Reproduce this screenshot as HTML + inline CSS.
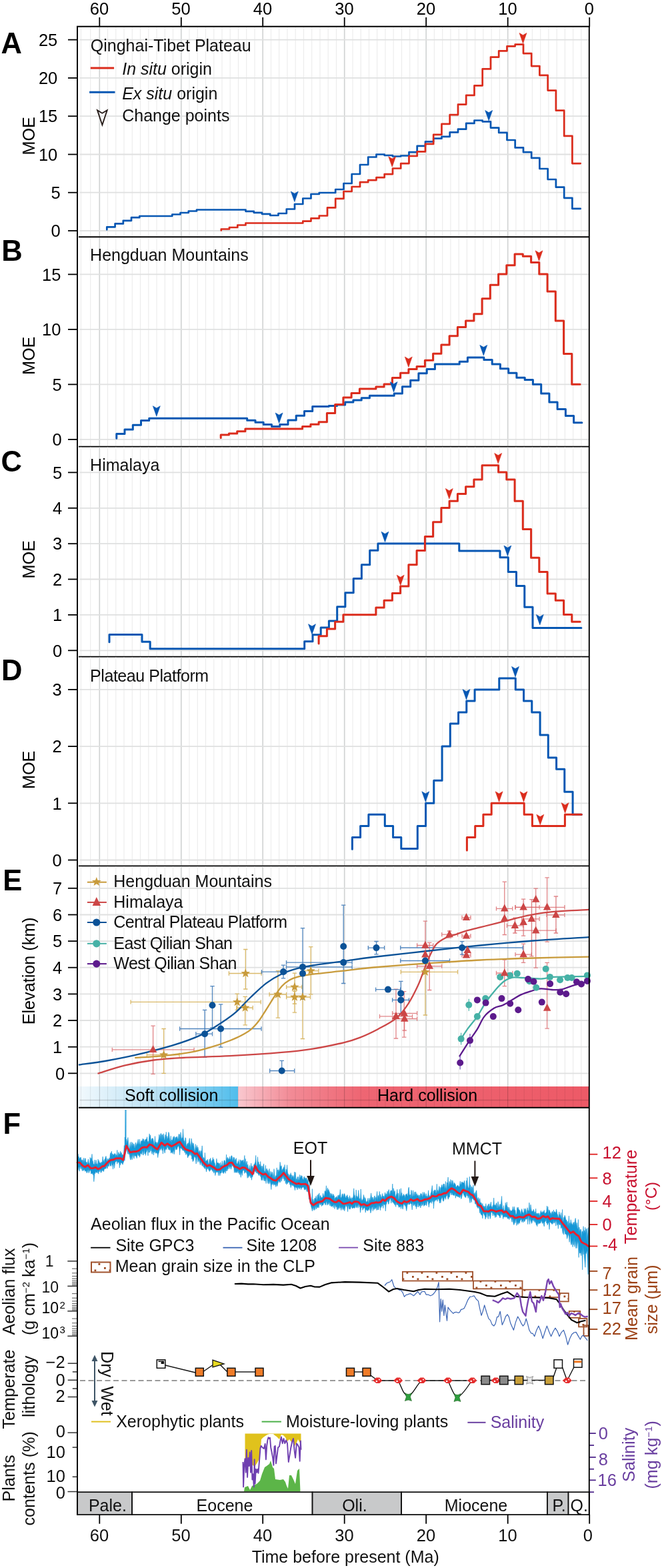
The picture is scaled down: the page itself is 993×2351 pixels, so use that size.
<!DOCTYPE html>
<html><head><meta charset="utf-8"><title>Figure</title>
<style>html,body{margin:0;padding:0;background:#fff;}svg{display:block;font-family:"Liberation Sans",Arial,Helvetica,sans-serif;}</style>
</head><body>
<svg width="993" height="2351" viewBox="0 0 993 2351">
<rect width="993" height="2351" fill="#fff"/>
<line x1="871.9" y1="40.8" x2="871.9" y2="354.2" stroke="#ececec" stroke-width="1.15" />
<line x1="859.7" y1="40.8" x2="859.7" y2="354.2" stroke="#ececec" stroke-width="1.15" />
<line x1="847.4" y1="40.8" x2="847.4" y2="354.2" stroke="#ececec" stroke-width="1.15" />
<line x1="835.2" y1="40.8" x2="835.2" y2="354.2" stroke="#ececec" stroke-width="1.15" />
<line x1="822.9" y1="40.8" x2="822.9" y2="354.2" stroke="#ececec" stroke-width="1.15" />
<line x1="810.7" y1="40.8" x2="810.7" y2="354.2" stroke="#ececec" stroke-width="1.15" />
<line x1="798.4" y1="40.8" x2="798.4" y2="354.2" stroke="#ececec" stroke-width="1.15" />
<line x1="786.2" y1="40.8" x2="786.2" y2="354.2" stroke="#ececec" stroke-width="1.15" />
<line x1="773.9" y1="40.8" x2="773.9" y2="354.2" stroke="#ececec" stroke-width="1.15" />
<line x1="761.7" y1="40.8" x2="761.7" y2="354.2" stroke="#d2d4d4" stroke-width="1.7" />
<line x1="749.4" y1="40.8" x2="749.4" y2="354.2" stroke="#ececec" stroke-width="1.15" />
<line x1="737.2" y1="40.8" x2="737.2" y2="354.2" stroke="#ececec" stroke-width="1.15" />
<line x1="724.9" y1="40.8" x2="724.9" y2="354.2" stroke="#ececec" stroke-width="1.15" />
<line x1="712.7" y1="40.8" x2="712.7" y2="354.2" stroke="#ececec" stroke-width="1.15" />
<line x1="700.4" y1="40.8" x2="700.4" y2="354.2" stroke="#ececec" stroke-width="1.15" />
<line x1="688.2" y1="40.8" x2="688.2" y2="354.2" stroke="#ececec" stroke-width="1.15" />
<line x1="675.9" y1="40.8" x2="675.9" y2="354.2" stroke="#ececec" stroke-width="1.15" />
<line x1="663.7" y1="40.8" x2="663.7" y2="354.2" stroke="#ececec" stroke-width="1.15" />
<line x1="651.4" y1="40.8" x2="651.4" y2="354.2" stroke="#ececec" stroke-width="1.15" />
<line x1="639.2" y1="40.8" x2="639.2" y2="354.2" stroke="#d2d4d4" stroke-width="1.7" />
<line x1="627" y1="40.8" x2="627" y2="354.2" stroke="#ececec" stroke-width="1.15" />
<line x1="614.7" y1="40.8" x2="614.7" y2="354.2" stroke="#ececec" stroke-width="1.15" />
<line x1="602.5" y1="40.8" x2="602.5" y2="354.2" stroke="#ececec" stroke-width="1.15" />
<line x1="590.2" y1="40.8" x2="590.2" y2="354.2" stroke="#ececec" stroke-width="1.15" />
<line x1="578" y1="40.8" x2="578" y2="354.2" stroke="#ececec" stroke-width="1.15" />
<line x1="565.7" y1="40.8" x2="565.7" y2="354.2" stroke="#ececec" stroke-width="1.15" />
<line x1="553.5" y1="40.8" x2="553.5" y2="354.2" stroke="#ececec" stroke-width="1.15" />
<line x1="541.2" y1="40.8" x2="541.2" y2="354.2" stroke="#ececec" stroke-width="1.15" />
<line x1="529" y1="40.8" x2="529" y2="354.2" stroke="#ececec" stroke-width="1.15" />
<line x1="516.7" y1="40.8" x2="516.7" y2="354.2" stroke="#d2d4d4" stroke-width="1.7" />
<line x1="504.5" y1="40.8" x2="504.5" y2="354.2" stroke="#ececec" stroke-width="1.15" />
<line x1="492.2" y1="40.8" x2="492.2" y2="354.2" stroke="#ececec" stroke-width="1.15" />
<line x1="480" y1="40.8" x2="480" y2="354.2" stroke="#ececec" stroke-width="1.15" />
<line x1="467.7" y1="40.8" x2="467.7" y2="354.2" stroke="#ececec" stroke-width="1.15" />
<line x1="455.5" y1="40.8" x2="455.5" y2="354.2" stroke="#ececec" stroke-width="1.15" />
<line x1="443.2" y1="40.8" x2="443.2" y2="354.2" stroke="#ececec" stroke-width="1.15" />
<line x1="431" y1="40.8" x2="431" y2="354.2" stroke="#ececec" stroke-width="1.15" />
<line x1="418.7" y1="40.8" x2="418.7" y2="354.2" stroke="#ececec" stroke-width="1.15" />
<line x1="406.5" y1="40.8" x2="406.5" y2="354.2" stroke="#ececec" stroke-width="1.15" />
<line x1="394.2" y1="40.8" x2="394.2" y2="354.2" stroke="#d2d4d4" stroke-width="1.7" />
<line x1="382" y1="40.8" x2="382" y2="354.2" stroke="#ececec" stroke-width="1.15" />
<line x1="369.7" y1="40.8" x2="369.7" y2="354.2" stroke="#ececec" stroke-width="1.15" />
<line x1="357.5" y1="40.8" x2="357.5" y2="354.2" stroke="#ececec" stroke-width="1.15" />
<line x1="345.2" y1="40.8" x2="345.2" y2="354.2" stroke="#ececec" stroke-width="1.15" />
<line x1="333" y1="40.8" x2="333" y2="354.2" stroke="#ececec" stroke-width="1.15" />
<line x1="320.8" y1="40.8" x2="320.8" y2="354.2" stroke="#ececec" stroke-width="1.15" />
<line x1="308.5" y1="40.8" x2="308.5" y2="354.2" stroke="#ececec" stroke-width="1.15" />
<line x1="296.3" y1="40.8" x2="296.3" y2="354.2" stroke="#ececec" stroke-width="1.15" />
<line x1="284" y1="40.8" x2="284" y2="354.2" stroke="#ececec" stroke-width="1.15" />
<line x1="271.8" y1="40.8" x2="271.8" y2="354.2" stroke="#d2d4d4" stroke-width="1.7" />
<line x1="259.5" y1="40.8" x2="259.5" y2="354.2" stroke="#ececec" stroke-width="1.15" />
<line x1="247.3" y1="40.8" x2="247.3" y2="354.2" stroke="#ececec" stroke-width="1.15" />
<line x1="235" y1="40.8" x2="235" y2="354.2" stroke="#ececec" stroke-width="1.15" />
<line x1="222.8" y1="40.8" x2="222.8" y2="354.2" stroke="#ececec" stroke-width="1.15" />
<line x1="210.5" y1="40.8" x2="210.5" y2="354.2" stroke="#ececec" stroke-width="1.15" />
<line x1="198.3" y1="40.8" x2="198.3" y2="354.2" stroke="#ececec" stroke-width="1.15" />
<line x1="186" y1="40.8" x2="186" y2="354.2" stroke="#ececec" stroke-width="1.15" />
<line x1="173.8" y1="40.8" x2="173.8" y2="354.2" stroke="#ececec" stroke-width="1.15" />
<line x1="161.5" y1="40.8" x2="161.5" y2="354.2" stroke="#ececec" stroke-width="1.15" />
<line x1="149.3" y1="40.8" x2="149.3" y2="354.2" stroke="#d2d4d4" stroke-width="1.7" />
<line x1="121.5" y1="40.8" x2="121.5" y2="354.2" stroke="#ececec" stroke-width="1.15" />
<line x1="135.7" y1="40.8" x2="135.7" y2="354.2" stroke="#ececec" stroke-width="1.15" />
<line x1="119.5" y1="346" x2="882.8" y2="346" stroke="#dfe0e0" stroke-width="1.8" />
<line x1="119.5" y1="288.7" x2="882.8" y2="288.7" stroke="#dfe0e0" stroke-width="1.8" />
<line x1="119.5" y1="231.5" x2="882.8" y2="231.5" stroke="#dfe0e0" stroke-width="1.8" />
<line x1="119.5" y1="174.2" x2="882.8" y2="174.2" stroke="#dfe0e0" stroke-width="1.8" />
<line x1="119.5" y1="116.9" x2="882.8" y2="116.9" stroke="#dfe0e0" stroke-width="1.8" />
<line x1="119.5" y1="59.6" x2="882.8" y2="59.6" stroke="#dfe0e0" stroke-width="1.8" />
<line x1="149.3" y1="26" x2="149.3" y2="39.8" stroke="#000" stroke-width="1.8" />
<text x="149" y="21.9" font-size="25.5" text-anchor="middle" fill="#000" >60</text>
<line x1="271.8" y1="26" x2="271.8" y2="39.8" stroke="#000" stroke-width="1.8" />
<text x="271.5" y="21.9" font-size="25.5" text-anchor="middle" fill="#000" >50</text>
<line x1="394.2" y1="26" x2="394.2" y2="39.8" stroke="#000" stroke-width="1.8" />
<text x="393.9" y="21.9" font-size="25.5" text-anchor="middle" fill="#000" >40</text>
<line x1="516.7" y1="26" x2="516.7" y2="39.8" stroke="#000" stroke-width="1.8" />
<text x="516.4" y="21.9" font-size="25.5" text-anchor="middle" fill="#000" >30</text>
<line x1="639.2" y1="26" x2="639.2" y2="39.8" stroke="#000" stroke-width="1.8" />
<text x="638.9" y="21.9" font-size="25.5" text-anchor="middle" fill="#000" >20</text>
<line x1="761.7" y1="26" x2="761.7" y2="39.8" stroke="#000" stroke-width="1.8" />
<text x="761.4" y="21.9" font-size="25.5" text-anchor="middle" fill="#000" >10</text>
<line x1="884.2" y1="26" x2="884.2" y2="39.8" stroke="#000" stroke-width="1.8" />
<text x="883.9" y="21.9" font-size="25.5" text-anchor="middle" fill="#000" >0</text>
<line x1="102" y1="59.6" x2="116" y2="59.6" stroke="#000" stroke-width="1.8" />
<text x="86.3" y="68.8" font-size="25.5" text-anchor="end" fill="#000" >25</text>
<line x1="102" y1="116.9" x2="116" y2="116.9" stroke="#000" stroke-width="1.8" />
<text x="86.3" y="126.1" font-size="25.5" text-anchor="end" fill="#000" >20</text>
<line x1="102" y1="174.2" x2="116" y2="174.2" stroke="#000" stroke-width="1.8" />
<text x="86.3" y="183.4" font-size="25.5" text-anchor="end" fill="#000" >15</text>
<line x1="102" y1="231.5" x2="116" y2="231.5" stroke="#000" stroke-width="1.8" />
<text x="86.3" y="240.7" font-size="25.5" text-anchor="end" fill="#000" >10</text>
<line x1="102" y1="288.7" x2="116" y2="288.7" stroke="#000" stroke-width="1.8" />
<text x="90.8" y="297.9" font-size="25.5" text-anchor="end" fill="#000" >5</text>
<line x1="102" y1="346" x2="116" y2="346" stroke="#000" stroke-width="1.8" />
<text x="90.8" y="355.2" font-size="25.5" text-anchor="end" fill="#000" >0</text>
<text x="0" y="0" font-size="25.2" text-anchor="middle" fill="#000" transform="translate(51.8,203.8) rotate(-90)">MOE</text>
<text x="1.5" y="79.5" font-size="43.5" font-weight="bold" fill="#000">A</text>
<text x="135.8" y="76.8" font-size="25" text-anchor="start" fill="#111" >Qinghai-Tibet Plateau</text>
<line x1="135.8" y1="102.1" x2="171.1" y2="102.1" stroke="#db2c1c" stroke-width="3" />
<text x="183.2" y="111.6" font-size="25" text-anchor="start" fill="#111" ><tspan font-style="italic">In situ</tspan> origin</text>
<line x1="134.1" y1="138.3" x2="172.5" y2="138.3" stroke="#0757b3" stroke-width="3" />
<text x="183.2" y="149.1" font-size="25" text-anchor="start" fill="#111" ><tspan font-style="italic">Ex situ</tspan> origin</text>
<path d="M146,165.3L153.3,169.8L160.7,165.3L153.4,187.3Z" fill="none" stroke="#231815" stroke-width="1.8"/>
<text x="183.2" y="181.8" font-size="25" text-anchor="start" fill="#111" >Change points</text>
<path d="M160.3,344.3V340.3H172.6V335.4H184.8V330.8H197V326.2H209.3V324H221.5V324H233.8V324H246V324H258.3V321.5H270.5V319H282.8V316.5H295V314.5H307.3V314.5H319.5V314.5H331.8V314.5H344V314.5H356.3V314.5H368.5V316.8H380.8V318.8H393V320.8H405.3V323H417.5V320H429.8V313.5H442V306H454.3V297.5H466.5V291H478.8V289H491V289H503.2V284H515.5V275H527.7V261H540V247H552.2V235.5H564.5V231.5H576.7V233H589V234.5H601.2V233.5H613.5V228.2H625.7V218.8H638V212.4H650.2V207.7H662.5V204.8H674.7V198.4H687V193.7H699.2V184.9H711.5V180.5H723.7V182.3H736V191.6H748.2V198.9H760.5V210H772.7V221.4H785V228.2H797.2V236.9H809.4V253H821.7V269H833.9V280.7H846.2V296.8H858.4V312.9H870.7" fill="none" stroke="#0757b3" stroke-width="2.7" stroke-linejoin="round" stroke-linecap="round"/>
<path d="M331.8,345.5V343.5H344V341H356.3V337.5H368.5V334.5H380.8V334.5H393V334.5H405.3V334.5H417.5V334.5H429.8V334.5H442V334.5H454.3V331.6H466.5V327.3H478.8V323.5H491V311.4H503.2V297.8H515.5V287H527.7V280H540V273.2H552.2V270.1H564.5V266.1H576.7V261.1H589V252.5H601.2V245.1H613.5V234H625.7V227.3H638V215.9H650.2V201.9H662.5V185.8H674.7V172.1H687V156.6H699.2V142.9H711.5V128.3H723.7V103.4H736V85.6H748.2V76.3H760.5V69.3H772.7V66.6H785V80.1H797.2V99.1H809.4V112.8H821.7V135.6H833.9V165.7H846.2V203.9H858.4V245.1H870.7" fill="none" stroke="#db2c1c" stroke-width="2.7" stroke-linejoin="round" stroke-linecap="round"/>
<path d="M436.3,287.1L441.8,290.3L447.3,287.1L441.8,302.6Z" fill="#0757b3" stroke="#0757b3" stroke-width="0.6" stroke-linejoin="round"/>
<path d="M582.7,234.7L588.2,237.9L593.7,234.7L588.2,250.2Z" fill="#db2c1c" stroke="#db2c1c" stroke-width="0.6" stroke-linejoin="round"/>
<path d="M727.7,165.5L733.2,168.7L738.7,165.5L733.2,181Z" fill="#0757b3" stroke="#0757b3" stroke-width="0.6" stroke-linejoin="round"/>
<path d="M779,49.5L784.5,52.7L790,49.5L784.5,65Z" fill="#db2c1c" stroke="#db2c1c" stroke-width="0.6" stroke-linejoin="round"/>
<line x1="871.9" y1="356.2" x2="871.9" y2="668.6" stroke="#ececec" stroke-width="1.15" />
<line x1="859.7" y1="356.2" x2="859.7" y2="668.6" stroke="#ececec" stroke-width="1.15" />
<line x1="847.4" y1="356.2" x2="847.4" y2="668.6" stroke="#ececec" stroke-width="1.15" />
<line x1="835.2" y1="356.2" x2="835.2" y2="668.6" stroke="#ececec" stroke-width="1.15" />
<line x1="822.9" y1="356.2" x2="822.9" y2="668.6" stroke="#ececec" stroke-width="1.15" />
<line x1="810.7" y1="356.2" x2="810.7" y2="668.6" stroke="#ececec" stroke-width="1.15" />
<line x1="798.4" y1="356.2" x2="798.4" y2="668.6" stroke="#ececec" stroke-width="1.15" />
<line x1="786.2" y1="356.2" x2="786.2" y2="668.6" stroke="#ececec" stroke-width="1.15" />
<line x1="773.9" y1="356.2" x2="773.9" y2="668.6" stroke="#ececec" stroke-width="1.15" />
<line x1="761.7" y1="356.2" x2="761.7" y2="668.6" stroke="#d2d4d4" stroke-width="1.7" />
<line x1="749.4" y1="356.2" x2="749.4" y2="668.6" stroke="#ececec" stroke-width="1.15" />
<line x1="737.2" y1="356.2" x2="737.2" y2="668.6" stroke="#ececec" stroke-width="1.15" />
<line x1="724.9" y1="356.2" x2="724.9" y2="668.6" stroke="#ececec" stroke-width="1.15" />
<line x1="712.7" y1="356.2" x2="712.7" y2="668.6" stroke="#ececec" stroke-width="1.15" />
<line x1="700.4" y1="356.2" x2="700.4" y2="668.6" stroke="#ececec" stroke-width="1.15" />
<line x1="688.2" y1="356.2" x2="688.2" y2="668.6" stroke="#ececec" stroke-width="1.15" />
<line x1="675.9" y1="356.2" x2="675.9" y2="668.6" stroke="#ececec" stroke-width="1.15" />
<line x1="663.7" y1="356.2" x2="663.7" y2="668.6" stroke="#ececec" stroke-width="1.15" />
<line x1="651.4" y1="356.2" x2="651.4" y2="668.6" stroke="#ececec" stroke-width="1.15" />
<line x1="639.2" y1="356.2" x2="639.2" y2="668.6" stroke="#d2d4d4" stroke-width="1.7" />
<line x1="627" y1="356.2" x2="627" y2="668.6" stroke="#ececec" stroke-width="1.15" />
<line x1="614.7" y1="356.2" x2="614.7" y2="668.6" stroke="#ececec" stroke-width="1.15" />
<line x1="602.5" y1="356.2" x2="602.5" y2="668.6" stroke="#ececec" stroke-width="1.15" />
<line x1="590.2" y1="356.2" x2="590.2" y2="668.6" stroke="#ececec" stroke-width="1.15" />
<line x1="578" y1="356.2" x2="578" y2="668.6" stroke="#ececec" stroke-width="1.15" />
<line x1="565.7" y1="356.2" x2="565.7" y2="668.6" stroke="#ececec" stroke-width="1.15" />
<line x1="553.5" y1="356.2" x2="553.5" y2="668.6" stroke="#ececec" stroke-width="1.15" />
<line x1="541.2" y1="356.2" x2="541.2" y2="668.6" stroke="#ececec" stroke-width="1.15" />
<line x1="529" y1="356.2" x2="529" y2="668.6" stroke="#ececec" stroke-width="1.15" />
<line x1="516.7" y1="356.2" x2="516.7" y2="668.6" stroke="#d2d4d4" stroke-width="1.7" />
<line x1="504.5" y1="356.2" x2="504.5" y2="668.6" stroke="#ececec" stroke-width="1.15" />
<line x1="492.2" y1="356.2" x2="492.2" y2="668.6" stroke="#ececec" stroke-width="1.15" />
<line x1="480" y1="356.2" x2="480" y2="668.6" stroke="#ececec" stroke-width="1.15" />
<line x1="467.7" y1="356.2" x2="467.7" y2="668.6" stroke="#ececec" stroke-width="1.15" />
<line x1="455.5" y1="356.2" x2="455.5" y2="668.6" stroke="#ececec" stroke-width="1.15" />
<line x1="443.2" y1="356.2" x2="443.2" y2="668.6" stroke="#ececec" stroke-width="1.15" />
<line x1="431" y1="356.2" x2="431" y2="668.6" stroke="#ececec" stroke-width="1.15" />
<line x1="418.7" y1="356.2" x2="418.7" y2="668.6" stroke="#ececec" stroke-width="1.15" />
<line x1="406.5" y1="356.2" x2="406.5" y2="668.6" stroke="#ececec" stroke-width="1.15" />
<line x1="394.2" y1="356.2" x2="394.2" y2="668.6" stroke="#d2d4d4" stroke-width="1.7" />
<line x1="382" y1="356.2" x2="382" y2="668.6" stroke="#ececec" stroke-width="1.15" />
<line x1="369.7" y1="356.2" x2="369.7" y2="668.6" stroke="#ececec" stroke-width="1.15" />
<line x1="357.5" y1="356.2" x2="357.5" y2="668.6" stroke="#ececec" stroke-width="1.15" />
<line x1="345.2" y1="356.2" x2="345.2" y2="668.6" stroke="#ececec" stroke-width="1.15" />
<line x1="333" y1="356.2" x2="333" y2="668.6" stroke="#ececec" stroke-width="1.15" />
<line x1="320.8" y1="356.2" x2="320.8" y2="668.6" stroke="#ececec" stroke-width="1.15" />
<line x1="308.5" y1="356.2" x2="308.5" y2="668.6" stroke="#ececec" stroke-width="1.15" />
<line x1="296.3" y1="356.2" x2="296.3" y2="668.6" stroke="#ececec" stroke-width="1.15" />
<line x1="284" y1="356.2" x2="284" y2="668.6" stroke="#ececec" stroke-width="1.15" />
<line x1="271.8" y1="356.2" x2="271.8" y2="668.6" stroke="#d2d4d4" stroke-width="1.7" />
<line x1="259.5" y1="356.2" x2="259.5" y2="668.6" stroke="#ececec" stroke-width="1.15" />
<line x1="247.3" y1="356.2" x2="247.3" y2="668.6" stroke="#ececec" stroke-width="1.15" />
<line x1="235" y1="356.2" x2="235" y2="668.6" stroke="#ececec" stroke-width="1.15" />
<line x1="222.8" y1="356.2" x2="222.8" y2="668.6" stroke="#ececec" stroke-width="1.15" />
<line x1="210.5" y1="356.2" x2="210.5" y2="668.6" stroke="#ececec" stroke-width="1.15" />
<line x1="198.3" y1="356.2" x2="198.3" y2="668.6" stroke="#ececec" stroke-width="1.15" />
<line x1="186" y1="356.2" x2="186" y2="668.6" stroke="#ececec" stroke-width="1.15" />
<line x1="173.8" y1="356.2" x2="173.8" y2="668.6" stroke="#ececec" stroke-width="1.15" />
<line x1="161.5" y1="356.2" x2="161.5" y2="668.6" stroke="#ececec" stroke-width="1.15" />
<line x1="149.3" y1="356.2" x2="149.3" y2="668.6" stroke="#d2d4d4" stroke-width="1.7" />
<line x1="121.5" y1="356.2" x2="121.5" y2="668.6" stroke="#ececec" stroke-width="1.15" />
<line x1="135.7" y1="356.2" x2="135.7" y2="668.6" stroke="#ececec" stroke-width="1.15" />
<line x1="119.5" y1="658.9" x2="882.8" y2="658.9" stroke="#dfe0e0" stroke-width="1.8" />
<line x1="119.5" y1="576.4" x2="882.8" y2="576.4" stroke="#dfe0e0" stroke-width="1.8" />
<line x1="119.5" y1="493.9" x2="882.8" y2="493.9" stroke="#dfe0e0" stroke-width="1.8" />
<line x1="119.5" y1="411.4" x2="882.8" y2="411.4" stroke="#dfe0e0" stroke-width="1.8" />
<line x1="102" y1="411.4" x2="116" y2="411.4" stroke="#000" stroke-width="1.8" />
<text x="91.4" y="420.6" font-size="25.5" text-anchor="end" fill="#000" >15</text>
<line x1="102" y1="493.9" x2="116" y2="493.9" stroke="#000" stroke-width="1.8" />
<text x="91.4" y="503.1" font-size="25.5" text-anchor="end" fill="#000" >10</text>
<line x1="102" y1="576.4" x2="116" y2="576.4" stroke="#000" stroke-width="1.8" />
<text x="92.8" y="585.6" font-size="25.5" text-anchor="end" fill="#000" >5</text>
<line x1="102" y1="658.9" x2="116" y2="658.9" stroke="#000" stroke-width="1.8" />
<text x="92.8" y="668.1" font-size="25.5" text-anchor="end" fill="#000" >0</text>
<text x="0" y="0" font-size="25.2" text-anchor="middle" fill="#000" transform="translate(51.8,533.4) rotate(-90)">MOE</text>
<text x="2.3" y="391.3" font-size="43.5" font-weight="bold" fill="#000">B</text>
<text x="135.1" y="390.6" font-size="25" text-anchor="start" fill="#111" >Hengduan Mountains</text>
<path d="M174.8,657.3V650.6H187V643.9H199.3V637.2H211.5V630.6H223.7V627.3H236V627.3H248.2V627.3H260.5V627.3H272.7V627.3H285V627.3H297.2V627.3H309.5V627.3H321.7V627.3H334V627.3H346.2V627.3H358.5V627.3H370.7V630.3H383V633.3H395.2V636.6H407.5V639.6H419.7V636.6H432V630H444.2V623.2H456.5V616.4H468.7V609.4H481V609.4H493.2V608.6H505.5V606.9H517.7V603.1H529.9V600H542.2V596.8H554.4V593.3H566.7V593.3H578.9V593.3H591.2V590H603.4V579.7H615.7V570.3H627.9V559.8H640.2V553.4H652.4V546.1H664.7V546.1H676.9V546.1H689.2V542.3H701.4V535.9H713.7V535.9H725.9V539.4H738.2V546.1H750.4V552.8H762.7V559.2H774.9V566.2H787.2V569.5H799.4V576.3H811.7V589.9H823.9V603.1H836.1V613.4H848.4V623.4H860.6V633.7H872.9" fill="none" stroke="#0757b3" stroke-width="3.0" stroke-linejoin="round" stroke-linecap="round"/>
<path d="M331.2,656.5V652.1H343.4V650H355.7V646.7H367.9V643H380.2V643H392.4V643H404.7V643H416.9V643H429.1V643H441.4V643H453.6V639.6H465.9V636.3H478.1V632.8H490.4V619.4H502.6V606.4H514.9V596H527.1V589.5H539.4V582.9H551.6V582.9H563.9V579.9H576.1V575.9H588.4V566.6H600.6V559.2H612.9V553.4H625.1V549.6H637.4V540.2H649.6V530.3H661.9V516.9H674.1V503.7H686.4V490.6H698.6V480.9H710.9V470.7H723.1V447.7H735.3V427.2H747.6V410.9H759.8V397.7H772.1V381.1H784.3V384.3H796.6V393.6H808.8V410.9H821.1V437.1H833.3V480.9H845.6V530.6H857.8V576.2H870.1" fill="none" stroke="#db2c1c" stroke-width="3.0" stroke-linejoin="round" stroke-linecap="round"/>
<path d="M229.3,608.7L234.8,611.9L240.3,608.7L234.8,624.2Z" fill="#0757b3" stroke="#0757b3" stroke-width="0.6" stroke-linejoin="round"/>
<path d="M413.1,619L418.6,622.2L424.1,619L418.6,634.5Z" fill="#0757b3" stroke="#0757b3" stroke-width="0.6" stroke-linejoin="round"/>
<path d="M585.1,572.5L590.6,575.7L596.1,572.5L590.6,588Z" fill="#0757b3" stroke="#0757b3" stroke-width="0.6" stroke-linejoin="round"/>
<path d="M719.8,517.4L725.3,520.6L730.8,517.4L725.3,532.9Z" fill="#0757b3" stroke="#0757b3" stroke-width="0.6" stroke-linejoin="round"/>
<path d="M607.3,535L612.8,538.2L618.3,535L612.8,550.5Z" fill="#db2c1c" stroke="#db2c1c" stroke-width="0.6" stroke-linejoin="round"/>
<path d="M803,375.8L808.5,379L814,375.8L808.5,391.3Z" fill="#db2c1c" stroke="#db2c1c" stroke-width="0.6" stroke-linejoin="round"/>
<line x1="118" y1="669.6" x2="883.8" y2="669.6" stroke="#000" stroke-width="1.9" />
<line x1="871.9" y1="670.6" x2="871.9" y2="983.6" stroke="#ececec" stroke-width="1.15" />
<line x1="859.7" y1="670.6" x2="859.7" y2="983.6" stroke="#ececec" stroke-width="1.15" />
<line x1="847.4" y1="670.6" x2="847.4" y2="983.6" stroke="#ececec" stroke-width="1.15" />
<line x1="835.2" y1="670.6" x2="835.2" y2="983.6" stroke="#ececec" stroke-width="1.15" />
<line x1="822.9" y1="670.6" x2="822.9" y2="983.6" stroke="#ececec" stroke-width="1.15" />
<line x1="810.7" y1="670.6" x2="810.7" y2="983.6" stroke="#ececec" stroke-width="1.15" />
<line x1="798.4" y1="670.6" x2="798.4" y2="983.6" stroke="#ececec" stroke-width="1.15" />
<line x1="786.2" y1="670.6" x2="786.2" y2="983.6" stroke="#ececec" stroke-width="1.15" />
<line x1="773.9" y1="670.6" x2="773.9" y2="983.6" stroke="#ececec" stroke-width="1.15" />
<line x1="761.7" y1="670.6" x2="761.7" y2="983.6" stroke="#d2d4d4" stroke-width="1.7" />
<line x1="749.4" y1="670.6" x2="749.4" y2="983.6" stroke="#ececec" stroke-width="1.15" />
<line x1="737.2" y1="670.6" x2="737.2" y2="983.6" stroke="#ececec" stroke-width="1.15" />
<line x1="724.9" y1="670.6" x2="724.9" y2="983.6" stroke="#ececec" stroke-width="1.15" />
<line x1="712.7" y1="670.6" x2="712.7" y2="983.6" stroke="#ececec" stroke-width="1.15" />
<line x1="700.4" y1="670.6" x2="700.4" y2="983.6" stroke="#ececec" stroke-width="1.15" />
<line x1="688.2" y1="670.6" x2="688.2" y2="983.6" stroke="#ececec" stroke-width="1.15" />
<line x1="675.9" y1="670.6" x2="675.9" y2="983.6" stroke="#ececec" stroke-width="1.15" />
<line x1="663.7" y1="670.6" x2="663.7" y2="983.6" stroke="#ececec" stroke-width="1.15" />
<line x1="651.4" y1="670.6" x2="651.4" y2="983.6" stroke="#ececec" stroke-width="1.15" />
<line x1="639.2" y1="670.6" x2="639.2" y2="983.6" stroke="#d2d4d4" stroke-width="1.7" />
<line x1="627" y1="670.6" x2="627" y2="983.6" stroke="#ececec" stroke-width="1.15" />
<line x1="614.7" y1="670.6" x2="614.7" y2="983.6" stroke="#ececec" stroke-width="1.15" />
<line x1="602.5" y1="670.6" x2="602.5" y2="983.6" stroke="#ececec" stroke-width="1.15" />
<line x1="590.2" y1="670.6" x2="590.2" y2="983.6" stroke="#ececec" stroke-width="1.15" />
<line x1="578" y1="670.6" x2="578" y2="983.6" stroke="#ececec" stroke-width="1.15" />
<line x1="565.7" y1="670.6" x2="565.7" y2="983.6" stroke="#ececec" stroke-width="1.15" />
<line x1="553.5" y1="670.6" x2="553.5" y2="983.6" stroke="#ececec" stroke-width="1.15" />
<line x1="541.2" y1="670.6" x2="541.2" y2="983.6" stroke="#ececec" stroke-width="1.15" />
<line x1="529" y1="670.6" x2="529" y2="983.6" stroke="#ececec" stroke-width="1.15" />
<line x1="516.7" y1="670.6" x2="516.7" y2="983.6" stroke="#d2d4d4" stroke-width="1.7" />
<line x1="504.5" y1="670.6" x2="504.5" y2="983.6" stroke="#ececec" stroke-width="1.15" />
<line x1="492.2" y1="670.6" x2="492.2" y2="983.6" stroke="#ececec" stroke-width="1.15" />
<line x1="480" y1="670.6" x2="480" y2="983.6" stroke="#ececec" stroke-width="1.15" />
<line x1="467.7" y1="670.6" x2="467.7" y2="983.6" stroke="#ececec" stroke-width="1.15" />
<line x1="455.5" y1="670.6" x2="455.5" y2="983.6" stroke="#ececec" stroke-width="1.15" />
<line x1="443.2" y1="670.6" x2="443.2" y2="983.6" stroke="#ececec" stroke-width="1.15" />
<line x1="431" y1="670.6" x2="431" y2="983.6" stroke="#ececec" stroke-width="1.15" />
<line x1="418.7" y1="670.6" x2="418.7" y2="983.6" stroke="#ececec" stroke-width="1.15" />
<line x1="406.5" y1="670.6" x2="406.5" y2="983.6" stroke="#ececec" stroke-width="1.15" />
<line x1="394.2" y1="670.6" x2="394.2" y2="983.6" stroke="#d2d4d4" stroke-width="1.7" />
<line x1="382" y1="670.6" x2="382" y2="983.6" stroke="#ececec" stroke-width="1.15" />
<line x1="369.7" y1="670.6" x2="369.7" y2="983.6" stroke="#ececec" stroke-width="1.15" />
<line x1="357.5" y1="670.6" x2="357.5" y2="983.6" stroke="#ececec" stroke-width="1.15" />
<line x1="345.2" y1="670.6" x2="345.2" y2="983.6" stroke="#ececec" stroke-width="1.15" />
<line x1="333" y1="670.6" x2="333" y2="983.6" stroke="#ececec" stroke-width="1.15" />
<line x1="320.8" y1="670.6" x2="320.8" y2="983.6" stroke="#ececec" stroke-width="1.15" />
<line x1="308.5" y1="670.6" x2="308.5" y2="983.6" stroke="#ececec" stroke-width="1.15" />
<line x1="296.3" y1="670.6" x2="296.3" y2="983.6" stroke="#ececec" stroke-width="1.15" />
<line x1="284" y1="670.6" x2="284" y2="983.6" stroke="#ececec" stroke-width="1.15" />
<line x1="271.8" y1="670.6" x2="271.8" y2="983.6" stroke="#d2d4d4" stroke-width="1.7" />
<line x1="259.5" y1="670.6" x2="259.5" y2="983.6" stroke="#ececec" stroke-width="1.15" />
<line x1="247.3" y1="670.6" x2="247.3" y2="983.6" stroke="#ececec" stroke-width="1.15" />
<line x1="235" y1="670.6" x2="235" y2="983.6" stroke="#ececec" stroke-width="1.15" />
<line x1="222.8" y1="670.6" x2="222.8" y2="983.6" stroke="#ececec" stroke-width="1.15" />
<line x1="210.5" y1="670.6" x2="210.5" y2="983.6" stroke="#ececec" stroke-width="1.15" />
<line x1="198.3" y1="670.6" x2="198.3" y2="983.6" stroke="#ececec" stroke-width="1.15" />
<line x1="186" y1="670.6" x2="186" y2="983.6" stroke="#ececec" stroke-width="1.15" />
<line x1="173.8" y1="670.6" x2="173.8" y2="983.6" stroke="#ececec" stroke-width="1.15" />
<line x1="161.5" y1="670.6" x2="161.5" y2="983.6" stroke="#ececec" stroke-width="1.15" />
<line x1="149.3" y1="670.6" x2="149.3" y2="983.6" stroke="#d2d4d4" stroke-width="1.7" />
<line x1="121.5" y1="670.6" x2="121.5" y2="983.6" stroke="#ececec" stroke-width="1.15" />
<line x1="135.7" y1="670.6" x2="135.7" y2="983.6" stroke="#ececec" stroke-width="1.15" />
<line x1="119.5" y1="975.3" x2="882.8" y2="975.3" stroke="#dfe0e0" stroke-width="1.8" />
<line x1="119.5" y1="921.9" x2="882.8" y2="921.9" stroke="#dfe0e0" stroke-width="1.8" />
<line x1="119.5" y1="868.5" x2="882.8" y2="868.5" stroke="#dfe0e0" stroke-width="1.8" />
<line x1="119.5" y1="815.2" x2="882.8" y2="815.2" stroke="#dfe0e0" stroke-width="1.8" />
<line x1="119.5" y1="761.8" x2="882.8" y2="761.8" stroke="#dfe0e0" stroke-width="1.8" />
<line x1="119.5" y1="708.4" x2="882.8" y2="708.4" stroke="#dfe0e0" stroke-width="1.8" />
<line x1="102" y1="708.4" x2="116" y2="708.4" stroke="#000" stroke-width="1.8" />
<text x="93.2" y="717.6" font-size="25.5" text-anchor="end" fill="#000" >5</text>
<line x1="102" y1="761.8" x2="116" y2="761.8" stroke="#000" stroke-width="1.8" />
<text x="93.2" y="771" font-size="25.5" text-anchor="end" fill="#000" >4</text>
<line x1="102" y1="815.2" x2="116" y2="815.2" stroke="#000" stroke-width="1.8" />
<text x="93.2" y="824.4" font-size="25.5" text-anchor="end" fill="#000" >3</text>
<line x1="102" y1="868.5" x2="116" y2="868.5" stroke="#000" stroke-width="1.8" />
<text x="93.2" y="877.7" font-size="25.5" text-anchor="end" fill="#000" >2</text>
<line x1="102" y1="921.9" x2="116" y2="921.9" stroke="#000" stroke-width="1.8" />
<text x="93.2" y="931.1" font-size="25.5" text-anchor="end" fill="#000" >1</text>
<line x1="102" y1="975.3" x2="116" y2="975.3" stroke="#000" stroke-width="1.8" />
<text x="93.2" y="984.5" font-size="25.5" text-anchor="end" fill="#000" >0</text>
<text x="0" y="0" font-size="25.2" text-anchor="middle" fill="#000" transform="translate(51.8,838.9) rotate(-90)">MOE</text>
<text x="1.5" y="706.6" font-size="43.5" font-weight="bold" fill="#000">C</text>
<text x="135.1" y="706" font-size="25" text-anchor="start" fill="#111" >Himalaya</text>
<path d="M164,962.8V951.6H213V962.2H225.2V972.8H456.7V961.8H469V951.7H481.2V941.1H493.4V931H505.7V909.7H517.9V888.8H530.2V867.6H542.4V846.7H554.7V825.3H566.9V815.1H688.8V826H750V835.8H762.3V857.5H774.5V878.5H786.8V910.3H799V941.6H871.9" fill="none" stroke="#0757b3" stroke-width="3.0" stroke-linejoin="round" stroke-linecap="round"/>
<path d="M478.1,965V953.7H490.4V943.1H502.6V932.3H514.9V921.7H527.1V921.7H539.4V921.7H551.6V921.7H563.9V910.9H576.1V900.3H588.4V889.5H600.6V878.9H612.9V846.7H625.1V825.5H637.4V804.5H649.6V782.8H661.9V761.6H674.1V751.2H686.4V740.4H698.6V729.8H710.9V718.9H723.1V697.7H735.3V697.7H747.6V708H759.8V718.9H772.1V751.2H784.3V793.6H796.6V836.3H808.8V857.5H821.1V889.9H833.3V900.2H845.6V921.4H857.8V932.3H870.1" fill="none" stroke="#db2c1c" stroke-width="3.0" stroke-linejoin="round" stroke-linecap="round"/>
<path d="M462.5,935.7L468,938.9L473.5,935.7L468,951.2Z" fill="#0757b3" stroke="#0757b3" stroke-width="0.6" stroke-linejoin="round"/>
<path d="M572,797.2L577.5,800.4L583,797.2L577.5,812.7Z" fill="#0757b3" stroke="#0757b3" stroke-width="0.6" stroke-linejoin="round"/>
<path d="M755.9,818.1L761.4,821.3L766.9,818.1L761.4,833.6Z" fill="#0757b3" stroke="#0757b3" stroke-width="0.6" stroke-linejoin="round"/>
<path d="M804.3,921.5L809.8,924.7L815.3,921.5L809.8,937Z" fill="#0757b3" stroke="#0757b3" stroke-width="0.6" stroke-linejoin="round"/>
<path d="M595.2,862.2L600.7,865.4L606.2,862.2L600.7,877.7Z" fill="#db2c1c" stroke="#db2c1c" stroke-width="0.6" stroke-linejoin="round"/>
<path d="M668.3,732.5L673.8,735.7L679.3,732.5L673.8,748Z" fill="#db2c1c" stroke="#db2c1c" stroke-width="0.6" stroke-linejoin="round"/>
<path d="M741.7,679.5L747.2,682.7L752.7,679.5L747.2,695Z" fill="#db2c1c" stroke="#db2c1c" stroke-width="0.6" stroke-linejoin="round"/>
<line x1="118" y1="984.6" x2="883.8" y2="984.6" stroke="#000" stroke-width="1.9" />
<line x1="871.9" y1="985.6" x2="871.9" y2="1297.4" stroke="#ececec" stroke-width="1.15" />
<line x1="859.7" y1="985.6" x2="859.7" y2="1297.4" stroke="#ececec" stroke-width="1.15" />
<line x1="847.4" y1="985.6" x2="847.4" y2="1297.4" stroke="#ececec" stroke-width="1.15" />
<line x1="835.2" y1="985.6" x2="835.2" y2="1297.4" stroke="#ececec" stroke-width="1.15" />
<line x1="822.9" y1="985.6" x2="822.9" y2="1297.4" stroke="#ececec" stroke-width="1.15" />
<line x1="810.7" y1="985.6" x2="810.7" y2="1297.4" stroke="#ececec" stroke-width="1.15" />
<line x1="798.4" y1="985.6" x2="798.4" y2="1297.4" stroke="#ececec" stroke-width="1.15" />
<line x1="786.2" y1="985.6" x2="786.2" y2="1297.4" stroke="#ececec" stroke-width="1.15" />
<line x1="773.9" y1="985.6" x2="773.9" y2="1297.4" stroke="#ececec" stroke-width="1.15" />
<line x1="761.7" y1="985.6" x2="761.7" y2="1297.4" stroke="#d2d4d4" stroke-width="1.7" />
<line x1="749.4" y1="985.6" x2="749.4" y2="1297.4" stroke="#ececec" stroke-width="1.15" />
<line x1="737.2" y1="985.6" x2="737.2" y2="1297.4" stroke="#ececec" stroke-width="1.15" />
<line x1="724.9" y1="985.6" x2="724.9" y2="1297.4" stroke="#ececec" stroke-width="1.15" />
<line x1="712.7" y1="985.6" x2="712.7" y2="1297.4" stroke="#ececec" stroke-width="1.15" />
<line x1="700.4" y1="985.6" x2="700.4" y2="1297.4" stroke="#ececec" stroke-width="1.15" />
<line x1="688.2" y1="985.6" x2="688.2" y2="1297.4" stroke="#ececec" stroke-width="1.15" />
<line x1="675.9" y1="985.6" x2="675.9" y2="1297.4" stroke="#ececec" stroke-width="1.15" />
<line x1="663.7" y1="985.6" x2="663.7" y2="1297.4" stroke="#ececec" stroke-width="1.15" />
<line x1="651.4" y1="985.6" x2="651.4" y2="1297.4" stroke="#ececec" stroke-width="1.15" />
<line x1="639.2" y1="985.6" x2="639.2" y2="1297.4" stroke="#d2d4d4" stroke-width="1.7" />
<line x1="627" y1="985.6" x2="627" y2="1297.4" stroke="#ececec" stroke-width="1.15" />
<line x1="614.7" y1="985.6" x2="614.7" y2="1297.4" stroke="#ececec" stroke-width="1.15" />
<line x1="602.5" y1="985.6" x2="602.5" y2="1297.4" stroke="#ececec" stroke-width="1.15" />
<line x1="590.2" y1="985.6" x2="590.2" y2="1297.4" stroke="#ececec" stroke-width="1.15" />
<line x1="578" y1="985.6" x2="578" y2="1297.4" stroke="#ececec" stroke-width="1.15" />
<line x1="565.7" y1="985.6" x2="565.7" y2="1297.4" stroke="#ececec" stroke-width="1.15" />
<line x1="553.5" y1="985.6" x2="553.5" y2="1297.4" stroke="#ececec" stroke-width="1.15" />
<line x1="541.2" y1="985.6" x2="541.2" y2="1297.4" stroke="#ececec" stroke-width="1.15" />
<line x1="529" y1="985.6" x2="529" y2="1297.4" stroke="#ececec" stroke-width="1.15" />
<line x1="516.7" y1="985.6" x2="516.7" y2="1297.4" stroke="#d2d4d4" stroke-width="1.7" />
<line x1="504.5" y1="985.6" x2="504.5" y2="1297.4" stroke="#ececec" stroke-width="1.15" />
<line x1="492.2" y1="985.6" x2="492.2" y2="1297.4" stroke="#ececec" stroke-width="1.15" />
<line x1="480" y1="985.6" x2="480" y2="1297.4" stroke="#ececec" stroke-width="1.15" />
<line x1="467.7" y1="985.6" x2="467.7" y2="1297.4" stroke="#ececec" stroke-width="1.15" />
<line x1="455.5" y1="985.6" x2="455.5" y2="1297.4" stroke="#ececec" stroke-width="1.15" />
<line x1="443.2" y1="985.6" x2="443.2" y2="1297.4" stroke="#ececec" stroke-width="1.15" />
<line x1="431" y1="985.6" x2="431" y2="1297.4" stroke="#ececec" stroke-width="1.15" />
<line x1="418.7" y1="985.6" x2="418.7" y2="1297.4" stroke="#ececec" stroke-width="1.15" />
<line x1="406.5" y1="985.6" x2="406.5" y2="1297.4" stroke="#ececec" stroke-width="1.15" />
<line x1="394.2" y1="985.6" x2="394.2" y2="1297.4" stroke="#d2d4d4" stroke-width="1.7" />
<line x1="382" y1="985.6" x2="382" y2="1297.4" stroke="#ececec" stroke-width="1.15" />
<line x1="369.7" y1="985.6" x2="369.7" y2="1297.4" stroke="#ececec" stroke-width="1.15" />
<line x1="357.5" y1="985.6" x2="357.5" y2="1297.4" stroke="#ececec" stroke-width="1.15" />
<line x1="345.2" y1="985.6" x2="345.2" y2="1297.4" stroke="#ececec" stroke-width="1.15" />
<line x1="333" y1="985.6" x2="333" y2="1297.4" stroke="#ececec" stroke-width="1.15" />
<line x1="320.8" y1="985.6" x2="320.8" y2="1297.4" stroke="#ececec" stroke-width="1.15" />
<line x1="308.5" y1="985.6" x2="308.5" y2="1297.4" stroke="#ececec" stroke-width="1.15" />
<line x1="296.3" y1="985.6" x2="296.3" y2="1297.4" stroke="#ececec" stroke-width="1.15" />
<line x1="284" y1="985.6" x2="284" y2="1297.4" stroke="#ececec" stroke-width="1.15" />
<line x1="271.8" y1="985.6" x2="271.8" y2="1297.4" stroke="#d2d4d4" stroke-width="1.7" />
<line x1="259.5" y1="985.6" x2="259.5" y2="1297.4" stroke="#ececec" stroke-width="1.15" />
<line x1="247.3" y1="985.6" x2="247.3" y2="1297.4" stroke="#ececec" stroke-width="1.15" />
<line x1="235" y1="985.6" x2="235" y2="1297.4" stroke="#ececec" stroke-width="1.15" />
<line x1="222.8" y1="985.6" x2="222.8" y2="1297.4" stroke="#ececec" stroke-width="1.15" />
<line x1="210.5" y1="985.6" x2="210.5" y2="1297.4" stroke="#ececec" stroke-width="1.15" />
<line x1="198.3" y1="985.6" x2="198.3" y2="1297.4" stroke="#ececec" stroke-width="1.15" />
<line x1="186" y1="985.6" x2="186" y2="1297.4" stroke="#ececec" stroke-width="1.15" />
<line x1="173.8" y1="985.6" x2="173.8" y2="1297.4" stroke="#ececec" stroke-width="1.15" />
<line x1="161.5" y1="985.6" x2="161.5" y2="1297.4" stroke="#ececec" stroke-width="1.15" />
<line x1="149.3" y1="985.6" x2="149.3" y2="1297.4" stroke="#d2d4d4" stroke-width="1.7" />
<line x1="121.5" y1="985.6" x2="121.5" y2="1297.4" stroke="#ececec" stroke-width="1.15" />
<line x1="135.7" y1="985.6" x2="135.7" y2="1297.4" stroke="#ececec" stroke-width="1.15" />
<line x1="119.5" y1="1289.5" x2="882.8" y2="1289.5" stroke="#dfe0e0" stroke-width="1.8" />
<line x1="119.5" y1="1204.3" x2="882.8" y2="1204.3" stroke="#dfe0e0" stroke-width="1.8" />
<line x1="119.5" y1="1119.1" x2="882.8" y2="1119.1" stroke="#dfe0e0" stroke-width="1.8" />
<line x1="119.5" y1="1033.9" x2="882.8" y2="1033.9" stroke="#dfe0e0" stroke-width="1.8" />
<line x1="102" y1="1033.9" x2="116" y2="1033.9" stroke="#000" stroke-width="1.8" />
<text x="92.8" y="1043.1" font-size="25.5" text-anchor="end" fill="#000" >3</text>
<line x1="102" y1="1119.1" x2="116" y2="1119.1" stroke="#000" stroke-width="1.8" />
<text x="92.8" y="1128.3" font-size="25.5" text-anchor="end" fill="#000" >2</text>
<line x1="102" y1="1204.3" x2="116" y2="1204.3" stroke="#000" stroke-width="1.8" />
<text x="92.8" y="1213.5" font-size="25.5" text-anchor="end" fill="#000" >1</text>
<line x1="102" y1="1289.5" x2="116" y2="1289.5" stroke="#000" stroke-width="1.8" />
<text x="92.8" y="1298.7" font-size="25.5" text-anchor="end" fill="#000" >0</text>
<text x="0" y="0" font-size="25.2" text-anchor="middle" fill="#000" transform="translate(51.8,1154.3) rotate(-90)">MOE</text>
<text x="2" y="1020" font-size="43.5" font-weight="bold" fill="#000">D</text>
<text x="135.1" y="1022" font-size="25" text-anchor="start" fill="#111" letter-spacing="-0.45">Plateau Platform</text>
<path d="M528.4,1273.3V1255.4H540.6V1238.4H552.9V1221.3H565.1V1221.3H577.3V1238.4H589.6V1255.4H601.8V1272.5H614.1V1272.5H626.3V1238.4H638.6V1204.3H650.8V1170.2H663.1V1119.1H675.3V1085H687.6V1068H699.8V1050.9H712.1V1033.9H724.3V1033.9H736.6V1033.9H748.8V1016.9H761.1V1016.9H773.3V1033.9H785.6V1050.9H797.8V1068H810.1V1102.1H822.3V1136.1H834.6V1153.2H846.8V1187.3H859.1V1221.3H872.3" fill="none" stroke="#0757b3" stroke-width="3.0" stroke-linejoin="round" stroke-linecap="round"/>
<path d="M700.4,1275V1255.4H712.7V1238.4H724.9V1221.3H737.2V1204.3H749.4V1204.3H761.7V1204.3H773.9V1204.3H786.2V1221.3H798.4V1238.4H810.7V1238.4H822.9V1238.4H835.2V1238.4H847.4V1221.3H859.7V1221.3H872.3" fill="none" stroke="#db2c1c" stroke-width="3.0" stroke-linejoin="round" stroke-linecap="round"/>
<path d="M632.8,1186.8L638.3,1190L643.8,1186.8L638.3,1202.3Z" fill="#0757b3" stroke="#0757b3" stroke-width="0.6" stroke-linejoin="round"/>
<path d="M694,1033.6L699.5,1036.8L705,1033.6L699.5,1049.1Z" fill="#0757b3" stroke="#0757b3" stroke-width="0.6" stroke-linejoin="round"/>
<path d="M767.5,999.4L773,1002.6L778.5,999.4L773,1014.9Z" fill="#0757b3" stroke="#0757b3" stroke-width="0.6" stroke-linejoin="round"/>
<path d="M743.1,1186.8L748.6,1190L754.1,1186.8L748.6,1202.3Z" fill="#db2c1c" stroke="#db2c1c" stroke-width="0.6" stroke-linejoin="round"/>
<path d="M780,1186.8L785.5,1190L791,1186.8L785.5,1202.3Z" fill="#db2c1c" stroke="#db2c1c" stroke-width="0.6" stroke-linejoin="round"/>
<path d="M804.8,1221.3L810.3,1224.5L815.8,1221.3L810.3,1236.8Z" fill="#db2c1c" stroke="#db2c1c" stroke-width="0.6" stroke-linejoin="round"/>
<path d="M842.1,1203.7L847.6,1206.9L853.1,1203.7L847.6,1219.2Z" fill="#db2c1c" stroke="#db2c1c" stroke-width="0.6" stroke-linejoin="round"/>
<line x1="118" y1="1298.4" x2="883.8" y2="1298.4" stroke="#000" stroke-width="1.9" />
<line x1="871.9" y1="1299.4" x2="871.9" y2="1659.8" stroke="#ececec" stroke-width="1.15" />
<line x1="859.7" y1="1299.4" x2="859.7" y2="1659.8" stroke="#ececec" stroke-width="1.15" />
<line x1="847.4" y1="1299.4" x2="847.4" y2="1659.8" stroke="#ececec" stroke-width="1.15" />
<line x1="835.2" y1="1299.4" x2="835.2" y2="1659.8" stroke="#ececec" stroke-width="1.15" />
<line x1="822.9" y1="1299.4" x2="822.9" y2="1659.8" stroke="#ececec" stroke-width="1.15" />
<line x1="810.7" y1="1299.4" x2="810.7" y2="1659.8" stroke="#ececec" stroke-width="1.15" />
<line x1="798.4" y1="1299.4" x2="798.4" y2="1659.8" stroke="#ececec" stroke-width="1.15" />
<line x1="786.2" y1="1299.4" x2="786.2" y2="1659.8" stroke="#ececec" stroke-width="1.15" />
<line x1="773.9" y1="1299.4" x2="773.9" y2="1659.8" stroke="#ececec" stroke-width="1.15" />
<line x1="761.7" y1="1299.4" x2="761.7" y2="1659.8" stroke="#d2d4d4" stroke-width="1.7" />
<line x1="749.4" y1="1299.4" x2="749.4" y2="1659.8" stroke="#ececec" stroke-width="1.15" />
<line x1="737.2" y1="1299.4" x2="737.2" y2="1659.8" stroke="#ececec" stroke-width="1.15" />
<line x1="724.9" y1="1299.4" x2="724.9" y2="1659.8" stroke="#ececec" stroke-width="1.15" />
<line x1="712.7" y1="1299.4" x2="712.7" y2="1659.8" stroke="#ececec" stroke-width="1.15" />
<line x1="700.4" y1="1299.4" x2="700.4" y2="1659.8" stroke="#ececec" stroke-width="1.15" />
<line x1="688.2" y1="1299.4" x2="688.2" y2="1659.8" stroke="#ececec" stroke-width="1.15" />
<line x1="675.9" y1="1299.4" x2="675.9" y2="1659.8" stroke="#ececec" stroke-width="1.15" />
<line x1="663.7" y1="1299.4" x2="663.7" y2="1659.8" stroke="#ececec" stroke-width="1.15" />
<line x1="651.4" y1="1299.4" x2="651.4" y2="1659.8" stroke="#ececec" stroke-width="1.15" />
<line x1="639.2" y1="1299.4" x2="639.2" y2="1659.8" stroke="#d2d4d4" stroke-width="1.7" />
<line x1="627" y1="1299.4" x2="627" y2="1659.8" stroke="#ececec" stroke-width="1.15" />
<line x1="614.7" y1="1299.4" x2="614.7" y2="1659.8" stroke="#ececec" stroke-width="1.15" />
<line x1="602.5" y1="1299.4" x2="602.5" y2="1659.8" stroke="#ececec" stroke-width="1.15" />
<line x1="590.2" y1="1299.4" x2="590.2" y2="1659.8" stroke="#ececec" stroke-width="1.15" />
<line x1="578" y1="1299.4" x2="578" y2="1659.8" stroke="#ececec" stroke-width="1.15" />
<line x1="565.7" y1="1299.4" x2="565.7" y2="1659.8" stroke="#ececec" stroke-width="1.15" />
<line x1="553.5" y1="1299.4" x2="553.5" y2="1659.8" stroke="#ececec" stroke-width="1.15" />
<line x1="541.2" y1="1299.4" x2="541.2" y2="1659.8" stroke="#ececec" stroke-width="1.15" />
<line x1="529" y1="1299.4" x2="529" y2="1659.8" stroke="#ececec" stroke-width="1.15" />
<line x1="516.7" y1="1299.4" x2="516.7" y2="1659.8" stroke="#d2d4d4" stroke-width="1.7" />
<line x1="504.5" y1="1299.4" x2="504.5" y2="1659.8" stroke="#ececec" stroke-width="1.15" />
<line x1="492.2" y1="1299.4" x2="492.2" y2="1659.8" stroke="#ececec" stroke-width="1.15" />
<line x1="480" y1="1299.4" x2="480" y2="1659.8" stroke="#ececec" stroke-width="1.15" />
<line x1="467.7" y1="1299.4" x2="467.7" y2="1659.8" stroke="#ececec" stroke-width="1.15" />
<line x1="455.5" y1="1299.4" x2="455.5" y2="1659.8" stroke="#ececec" stroke-width="1.15" />
<line x1="443.2" y1="1299.4" x2="443.2" y2="1659.8" stroke="#ececec" stroke-width="1.15" />
<line x1="431" y1="1299.4" x2="431" y2="1659.8" stroke="#ececec" stroke-width="1.15" />
<line x1="418.7" y1="1299.4" x2="418.7" y2="1659.8" stroke="#ececec" stroke-width="1.15" />
<line x1="406.5" y1="1299.4" x2="406.5" y2="1659.8" stroke="#ececec" stroke-width="1.15" />
<line x1="394.2" y1="1299.4" x2="394.2" y2="1659.8" stroke="#d2d4d4" stroke-width="1.7" />
<line x1="382" y1="1299.4" x2="382" y2="1659.8" stroke="#ececec" stroke-width="1.15" />
<line x1="369.7" y1="1299.4" x2="369.7" y2="1659.8" stroke="#ececec" stroke-width="1.15" />
<line x1="357.5" y1="1299.4" x2="357.5" y2="1659.8" stroke="#ececec" stroke-width="1.15" />
<line x1="345.2" y1="1299.4" x2="345.2" y2="1659.8" stroke="#ececec" stroke-width="1.15" />
<line x1="333" y1="1299.4" x2="333" y2="1659.8" stroke="#ececec" stroke-width="1.15" />
<line x1="320.8" y1="1299.4" x2="320.8" y2="1659.8" stroke="#ececec" stroke-width="1.15" />
<line x1="308.5" y1="1299.4" x2="308.5" y2="1659.8" stroke="#ececec" stroke-width="1.15" />
<line x1="296.3" y1="1299.4" x2="296.3" y2="1659.8" stroke="#ececec" stroke-width="1.15" />
<line x1="284" y1="1299.4" x2="284" y2="1659.8" stroke="#ececec" stroke-width="1.15" />
<line x1="271.8" y1="1299.4" x2="271.8" y2="1659.8" stroke="#d2d4d4" stroke-width="1.7" />
<line x1="259.5" y1="1299.4" x2="259.5" y2="1659.8" stroke="#ececec" stroke-width="1.15" />
<line x1="247.3" y1="1299.4" x2="247.3" y2="1659.8" stroke="#ececec" stroke-width="1.15" />
<line x1="235" y1="1299.4" x2="235" y2="1659.8" stroke="#ececec" stroke-width="1.15" />
<line x1="222.8" y1="1299.4" x2="222.8" y2="1659.8" stroke="#ececec" stroke-width="1.15" />
<line x1="210.5" y1="1299.4" x2="210.5" y2="1659.8" stroke="#ececec" stroke-width="1.15" />
<line x1="198.3" y1="1299.4" x2="198.3" y2="1659.8" stroke="#ececec" stroke-width="1.15" />
<line x1="186" y1="1299.4" x2="186" y2="1659.8" stroke="#ececec" stroke-width="1.15" />
<line x1="173.8" y1="1299.4" x2="173.8" y2="1659.8" stroke="#ececec" stroke-width="1.15" />
<line x1="161.5" y1="1299.4" x2="161.5" y2="1659.8" stroke="#ececec" stroke-width="1.15" />
<line x1="149.3" y1="1299.4" x2="149.3" y2="1659.8" stroke="#d2d4d4" stroke-width="1.7" />
<line x1="121.5" y1="1299.4" x2="121.5" y2="1659.8" stroke="#ececec" stroke-width="1.15" />
<line x1="135.7" y1="1299.4" x2="135.7" y2="1659.8" stroke="#ececec" stroke-width="1.15" />
<line x1="119.5" y1="1609.3" x2="882.8" y2="1609.3" stroke="#dfe0e0" stroke-width="1.8" />
<line x1="119.5" y1="1569.7" x2="882.8" y2="1569.7" stroke="#dfe0e0" stroke-width="1.8" />
<line x1="119.5" y1="1530" x2="882.8" y2="1530" stroke="#dfe0e0" stroke-width="1.8" />
<line x1="119.5" y1="1490.4" x2="882.8" y2="1490.4" stroke="#dfe0e0" stroke-width="1.8" />
<line x1="119.5" y1="1450.7" x2="882.8" y2="1450.7" stroke="#dfe0e0" stroke-width="1.8" />
<line x1="119.5" y1="1411.1" x2="882.8" y2="1411.1" stroke="#dfe0e0" stroke-width="1.8" />
<line x1="119.5" y1="1371.5" x2="882.8" y2="1371.5" stroke="#dfe0e0" stroke-width="1.8" />
<line x1="119.5" y1="1331.8" x2="882.8" y2="1331.8" stroke="#dfe0e0" stroke-width="1.8" />
<defs>
<linearGradient id="gsoft" x1="0" x2="1" y1="0" y2="0"><stop offset="0" stop-color="#f2f9fd"/><stop offset="0.5" stop-color="#b9e1f4"/><stop offset="1" stop-color="#4fbdec"/></linearGradient>
<linearGradient id="ghard" x1="0" x2="1" y1="0" y2="0"><stop offset="0" stop-color="#f9c8cf"/><stop offset="0.15" stop-color="#f28b96"/><stop offset="0.35" stop-color="#ee6673"/><stop offset="1" stop-color="#ed5a67"/></linearGradient>
</defs>
<rect x="117" y="1629" width="240" height="31" fill="url(#gsoft)"/>
<rect x="357" y="1629" width="526" height="31" fill="url(#ghard)"/>
<line x1="871.9" y1="1629" x2="871.9" y2="1660" stroke="#000" stroke-width="1" stroke-opacity="0.08"/>
<line x1="859.7" y1="1629" x2="859.7" y2="1660" stroke="#000" stroke-width="1" stroke-opacity="0.08"/>
<line x1="847.4" y1="1629" x2="847.4" y2="1660" stroke="#000" stroke-width="1" stroke-opacity="0.08"/>
<line x1="835.2" y1="1629" x2="835.2" y2="1660" stroke="#000" stroke-width="1" stroke-opacity="0.08"/>
<line x1="822.9" y1="1629" x2="822.9" y2="1660" stroke="#000" stroke-width="1" stroke-opacity="0.08"/>
<line x1="810.7" y1="1629" x2="810.7" y2="1660" stroke="#000" stroke-width="1" stroke-opacity="0.08"/>
<line x1="798.4" y1="1629" x2="798.4" y2="1660" stroke="#000" stroke-width="1" stroke-opacity="0.08"/>
<line x1="786.2" y1="1629" x2="786.2" y2="1660" stroke="#000" stroke-width="1" stroke-opacity="0.08"/>
<line x1="773.9" y1="1629" x2="773.9" y2="1660" stroke="#000" stroke-width="1" stroke-opacity="0.08"/>
<line x1="761.7" y1="1629" x2="761.7" y2="1660" stroke="#000" stroke-width="1" stroke-opacity="0.22"/>
<line x1="749.4" y1="1629" x2="749.4" y2="1660" stroke="#000" stroke-width="1" stroke-opacity="0.08"/>
<line x1="737.2" y1="1629" x2="737.2" y2="1660" stroke="#000" stroke-width="1" stroke-opacity="0.08"/>
<line x1="724.9" y1="1629" x2="724.9" y2="1660" stroke="#000" stroke-width="1" stroke-opacity="0.08"/>
<line x1="712.7" y1="1629" x2="712.7" y2="1660" stroke="#000" stroke-width="1" stroke-opacity="0.08"/>
<line x1="700.4" y1="1629" x2="700.4" y2="1660" stroke="#000" stroke-width="1" stroke-opacity="0.08"/>
<line x1="688.2" y1="1629" x2="688.2" y2="1660" stroke="#000" stroke-width="1" stroke-opacity="0.08"/>
<line x1="675.9" y1="1629" x2="675.9" y2="1660" stroke="#000" stroke-width="1" stroke-opacity="0.08"/>
<line x1="663.7" y1="1629" x2="663.7" y2="1660" stroke="#000" stroke-width="1" stroke-opacity="0.08"/>
<line x1="651.4" y1="1629" x2="651.4" y2="1660" stroke="#000" stroke-width="1" stroke-opacity="0.08"/>
<line x1="639.2" y1="1629" x2="639.2" y2="1660" stroke="#000" stroke-width="1" stroke-opacity="0.22"/>
<line x1="627" y1="1629" x2="627" y2="1660" stroke="#000" stroke-width="1" stroke-opacity="0.08"/>
<line x1="614.7" y1="1629" x2="614.7" y2="1660" stroke="#000" stroke-width="1" stroke-opacity="0.08"/>
<line x1="602.5" y1="1629" x2="602.5" y2="1660" stroke="#000" stroke-width="1" stroke-opacity="0.08"/>
<line x1="590.2" y1="1629" x2="590.2" y2="1660" stroke="#000" stroke-width="1" stroke-opacity="0.08"/>
<line x1="578" y1="1629" x2="578" y2="1660" stroke="#000" stroke-width="1" stroke-opacity="0.08"/>
<line x1="565.7" y1="1629" x2="565.7" y2="1660" stroke="#000" stroke-width="1" stroke-opacity="0.08"/>
<line x1="553.5" y1="1629" x2="553.5" y2="1660" stroke="#000" stroke-width="1" stroke-opacity="0.08"/>
<line x1="541.2" y1="1629" x2="541.2" y2="1660" stroke="#000" stroke-width="1" stroke-opacity="0.08"/>
<line x1="529" y1="1629" x2="529" y2="1660" stroke="#000" stroke-width="1" stroke-opacity="0.08"/>
<line x1="516.7" y1="1629" x2="516.7" y2="1660" stroke="#000" stroke-width="1" stroke-opacity="0.22"/>
<line x1="504.5" y1="1629" x2="504.5" y2="1660" stroke="#000" stroke-width="1" stroke-opacity="0.08"/>
<line x1="492.2" y1="1629" x2="492.2" y2="1660" stroke="#000" stroke-width="1" stroke-opacity="0.08"/>
<line x1="480" y1="1629" x2="480" y2="1660" stroke="#000" stroke-width="1" stroke-opacity="0.08"/>
<line x1="467.7" y1="1629" x2="467.7" y2="1660" stroke="#000" stroke-width="1" stroke-opacity="0.08"/>
<line x1="455.5" y1="1629" x2="455.5" y2="1660" stroke="#000" stroke-width="1" stroke-opacity="0.08"/>
<line x1="443.2" y1="1629" x2="443.2" y2="1660" stroke="#000" stroke-width="1" stroke-opacity="0.08"/>
<line x1="431" y1="1629" x2="431" y2="1660" stroke="#000" stroke-width="1" stroke-opacity="0.08"/>
<line x1="418.7" y1="1629" x2="418.7" y2="1660" stroke="#000" stroke-width="1" stroke-opacity="0.08"/>
<line x1="406.5" y1="1629" x2="406.5" y2="1660" stroke="#000" stroke-width="1" stroke-opacity="0.08"/>
<line x1="394.2" y1="1629" x2="394.2" y2="1660" stroke="#000" stroke-width="1" stroke-opacity="0.22"/>
<line x1="382" y1="1629" x2="382" y2="1660" stroke="#000" stroke-width="1" stroke-opacity="0.08"/>
<line x1="369.7" y1="1629" x2="369.7" y2="1660" stroke="#000" stroke-width="1" stroke-opacity="0.08"/>
<line x1="357.5" y1="1629" x2="357.5" y2="1660" stroke="#000" stroke-width="1" stroke-opacity="0.08"/>
<line x1="345.2" y1="1629" x2="345.2" y2="1660" stroke="#000" stroke-width="1" stroke-opacity="0.08"/>
<line x1="333" y1="1629" x2="333" y2="1660" stroke="#000" stroke-width="1" stroke-opacity="0.08"/>
<line x1="320.8" y1="1629" x2="320.8" y2="1660" stroke="#000" stroke-width="1" stroke-opacity="0.08"/>
<line x1="308.5" y1="1629" x2="308.5" y2="1660" stroke="#000" stroke-width="1" stroke-opacity="0.08"/>
<line x1="296.3" y1="1629" x2="296.3" y2="1660" stroke="#000" stroke-width="1" stroke-opacity="0.08"/>
<line x1="284" y1="1629" x2="284" y2="1660" stroke="#000" stroke-width="1" stroke-opacity="0.08"/>
<line x1="271.8" y1="1629" x2="271.8" y2="1660" stroke="#000" stroke-width="1" stroke-opacity="0.22"/>
<line x1="259.5" y1="1629" x2="259.5" y2="1660" stroke="#000" stroke-width="1" stroke-opacity="0.08"/>
<line x1="247.3" y1="1629" x2="247.3" y2="1660" stroke="#000" stroke-width="1" stroke-opacity="0.08"/>
<line x1="235" y1="1629" x2="235" y2="1660" stroke="#000" stroke-width="1" stroke-opacity="0.08"/>
<line x1="222.8" y1="1629" x2="222.8" y2="1660" stroke="#000" stroke-width="1" stroke-opacity="0.08"/>
<line x1="210.5" y1="1629" x2="210.5" y2="1660" stroke="#000" stroke-width="1" stroke-opacity="0.08"/>
<line x1="198.3" y1="1629" x2="198.3" y2="1660" stroke="#000" stroke-width="1" stroke-opacity="0.08"/>
<line x1="186" y1="1629" x2="186" y2="1660" stroke="#000" stroke-width="1" stroke-opacity="0.08"/>
<line x1="173.8" y1="1629" x2="173.8" y2="1660" stroke="#000" stroke-width="1" stroke-opacity="0.08"/>
<line x1="161.5" y1="1629" x2="161.5" y2="1660" stroke="#000" stroke-width="1" stroke-opacity="0.08"/>
<line x1="149.3" y1="1629" x2="149.3" y2="1660" stroke="#000" stroke-width="1" stroke-opacity="0.22"/>
<line x1="121.5" y1="1629" x2="121.5" y2="1660" stroke="#000" stroke-width="1" stroke-opacity="0.08"/>
<line x1="135.7" y1="1629" x2="135.7" y2="1660" stroke="#000" stroke-width="1" stroke-opacity="0.08"/>
<line x1="119.5" y1="1649.5" x2="882.8" y2="1649.5" stroke="#000" stroke-width="1.3" stroke-opacity="0.15"/>
<text x="187" y="1651" font-size="25" text-anchor="start" fill="#000" >Soft collision</text>
<text x="566" y="1651" font-size="25" text-anchor="start" fill="#000" >Hard collision</text>
<line x1="102" y1="1331.8" x2="116" y2="1331.8" stroke="#000" stroke-width="1.8" />
<text x="93.1" y="1341" font-size="25.5" text-anchor="end" fill="#000" >7</text>
<line x1="102" y1="1371.5" x2="116" y2="1371.5" stroke="#000" stroke-width="1.8" />
<text x="93.1" y="1380.7" font-size="25.5" text-anchor="end" fill="#000" >6</text>
<line x1="102" y1="1411.1" x2="116" y2="1411.1" stroke="#000" stroke-width="1.8" />
<text x="93.1" y="1420.3" font-size="25.5" text-anchor="end" fill="#000" >5</text>
<line x1="102" y1="1450.7" x2="116" y2="1450.7" stroke="#000" stroke-width="1.8" />
<text x="93.1" y="1459.9" font-size="25.5" text-anchor="end" fill="#000" >4</text>
<line x1="102" y1="1490.4" x2="116" y2="1490.4" stroke="#000" stroke-width="1.8" />
<text x="93.1" y="1499.6" font-size="25.5" text-anchor="end" fill="#000" >3</text>
<line x1="102" y1="1530" x2="116" y2="1530" stroke="#000" stroke-width="1.8" />
<text x="93.1" y="1539.2" font-size="25.5" text-anchor="end" fill="#000" >2</text>
<line x1="102" y1="1569.7" x2="116" y2="1569.7" stroke="#000" stroke-width="1.8" />
<text x="93.1" y="1578.9" font-size="25.5" text-anchor="end" fill="#000" >1</text>
<line x1="102" y1="1609.3" x2="116" y2="1609.3" stroke="#000" stroke-width="1.8" />
<text x="97.2" y="1618.5" font-size="25.5" text-anchor="end" fill="#000" >0</text>
<text x="0" y="0" font-size="25.2" text-anchor="middle" fill="#000" transform="translate(51.8,1455.8) rotate(-90)">Elevation (km)</text>
<text x="4.2" y="1335" font-size="43.5" font-weight="bold" fill="#000">E</text>
<path d="M245.6,1542.5V1609.4M242.4,1542.5H248.8M242.4,1609.4H248.8M220.4,1581.7H269M220.4,1578.5V1584.9M269,1578.5V1584.9" fill="none" stroke="#d6b25a" stroke-width="1.3" stroke-opacity="0.9"/>
<path d="M355.7,1490.1V1514.4M352.5,1490.1H358.9M352.5,1514.4H358.9M196.1,1502.4H391.2M196.1,1499.2V1505.6M391.2,1499.2V1505.6" fill="none" stroke="#d6b25a" stroke-width="1.3" stroke-opacity="0.9"/>
<path d="M367.7,1494.4V1536.8M364.5,1494.4H370.9M364.5,1536.8H370.9M354.8,1511H379.2M354.8,1507.8V1514.2M379.2,1507.8V1514.2" fill="none" stroke="#d6b25a" stroke-width="1.3" stroke-opacity="0.9"/>
<path d="M368.3,1423.5V1483M365.1,1423.5H371.5M365.1,1483H371.5M343.4,1459.5H392M343.4,1456.3V1462.7M392,1456.3V1462.7" fill="none" stroke="#d6b25a" stroke-width="1.3" stroke-opacity="0.9"/>
<path d="M416.9,1455.6V1526.2M413.7,1455.6H420.1M413.7,1526.2H420.1M404.1,1491H429.6M404.1,1487.8V1494.2M429.6,1487.8V1494.2" fill="none" stroke="#d6b25a" stroke-width="1.3" stroke-opacity="0.9"/>
<path d="M441.9,1459.1V1518.1M438.7,1459.1H445.1M438.7,1518.1H445.1M429.6,1479.9H452.8M429.6,1476.7V1483.1M452.8,1476.7V1483.1" fill="none" stroke="#d6b25a" stroke-width="1.3" stroke-opacity="0.9"/>
<path d="M441.9,1486V1505M438.7,1486H445.1M438.7,1505H445.1M429.6,1495H465.5M429.6,1491.8V1498.2M465.5,1491.8V1498.2" fill="none" stroke="#d6b25a" stroke-width="1.3" stroke-opacity="0.9"/>
<path d="M453.9,1459V1557.5M450.7,1459H457.1M450.7,1557.5H457.1" fill="none" stroke="#d6b25a" stroke-width="1.3" stroke-opacity="0.9"/>
<path d="M466.2,1419.7V1490.8M463,1419.7H469.4M463,1490.8H469.4M453.9,1455.6H477.8M453.9,1452.4V1458.8M477.8,1452.4V1458.8" fill="none" stroke="#d6b25a" stroke-width="1.3" stroke-opacity="0.9"/>
<path d="M637.9,1440V1522M634.7,1440H641.1M634.7,1522H641.1M601.3,1457.3H686.5M601.3,1454.1V1460.5M686.5,1454.1V1460.5" fill="none" stroke="#d6b25a" stroke-width="1.3" stroke-opacity="0.9"/>
<path d="M229.6,1538.2V1610.3M226.4,1538.2H232.8M226.4,1610.3H232.8M168.3,1573.9H291.1M168.3,1570.7V1577.1M291.1,1570.7V1577.1" fill="none" stroke="#d9666a" stroke-width="1.3" stroke-opacity="0.8"/>
<path d="M594,1483.1V1557M590.8,1483.1H597.2M590.8,1557H597.2M569.5,1523.9H618.5M569.5,1520.7V1527.1M618.5,1520.7V1527.1" fill="none" stroke="#d9666a" stroke-width="1.3" stroke-opacity="0.8"/>
<path d="M606.2,1486.7V1555.2M603,1486.7H609.4M603,1555.2H609.4M588.6,1519.3H625.6M588.6,1516.1V1522.5M625.6,1516.1V1522.5" fill="none" stroke="#d9666a" stroke-width="1.3" stroke-opacity="0.8"/>
<path d="M606.7,1520V1545M603.5,1520H609.9M603.5,1545H609.9M588.6,1527.5H625.6M588.6,1524.3V1530.7M625.6,1524.3V1530.7" fill="none" stroke="#d9666a" stroke-width="1.3" stroke-opacity="0.8"/>
<path d="M637.9,1381.2V1440M634.7,1381.2H641.1M634.7,1440H641.1M625.6,1417.5H649.7M625.6,1414.3V1420.7M649.7,1414.3V1420.7" fill="none" stroke="#d9666a" stroke-width="1.3" stroke-opacity="0.8"/>
<path d="M644.2,1413.3V1484.5M641,1413.3H647.4M641,1484.5H647.4M625.6,1448.6H662.7M625.6,1445.4V1451.8M662.7,1445.4V1451.8" fill="none" stroke="#d9666a" stroke-width="1.3" stroke-opacity="0.8"/>
<path d="M674.1,1396V1406M670.9,1396H677.3M670.9,1406H677.3M662.7,1401.1H686.5M662.7,1397.9V1404.3M686.5,1397.9V1404.3" fill="none" stroke="#d9666a" stroke-width="1.3" stroke-opacity="0.8"/>
<path d="M693,1375.8H706M693,1372.6V1379M706,1372.6V1379" fill="none" stroke="#d9666a" stroke-width="1.3" stroke-opacity="0.8"/>
<path d="M693,1403.3H706M693,1400.1V1406.5M706,1400.1V1406.5" fill="none" stroke="#d9666a" stroke-width="1.3" stroke-opacity="0.8"/>
<path d="M693,1432.2H706M693,1429V1435.4M706,1429V1435.4" fill="none" stroke="#d9666a" stroke-width="1.3" stroke-opacity="0.8"/>
<path d="M756.8,1322.2V1401.5M753.6,1322.2H760M753.6,1401.5H760M744.5,1362.4H768.8M744.5,1359.2V1365.6M768.8,1359.2V1365.6" fill="none" stroke="#d9666a" stroke-width="1.3" stroke-opacity="0.8"/>
<path d="M756.8,1439.1V1478.7M753.6,1439.1H760M753.6,1478.7H760M744.5,1459H768.8M744.5,1455.8V1462.2M768.8,1455.8V1462.2" fill="none" stroke="#d9666a" stroke-width="1.3" stroke-opacity="0.8"/>
<path d="M772.4,1376.1V1399M769.2,1376.1H775.6M769.2,1399H775.6M760.4,1387.8H784.7M760.4,1384.6V1391M784.7,1384.6V1391" fill="none" stroke="#d9666a" stroke-width="1.3" stroke-opacity="0.8"/>
<path d="M785.1,1348.2V1403.2M781.9,1348.2H788.3M781.9,1403.2H788.3M773,1360.3H809M773,1357.1V1363.5M809,1357.1V1363.5" fill="none" stroke="#d9666a" stroke-width="1.3" stroke-opacity="0.8"/>
<path d="M785.1,1415.2V1443.4M781.9,1415.2H788.3M781.9,1443.4H788.3M773,1431.1H797.4M773,1427.9V1434.3M797.4,1427.9V1434.3" fill="none" stroke="#d9666a" stroke-width="1.3" stroke-opacity="0.8"/>
<path d="M797.4,1348.6V1433.6M794.2,1348.6H800.6M794.2,1433.6H800.6M782.6,1377.8H809M782.6,1374.6V1381M809,1374.6V1381" fill="none" stroke="#d9666a" stroke-width="1.3" stroke-opacity="0.8"/>
<path d="M803.7,1332.1V1451.2M800.5,1332.1H806.9M800.5,1451.2H806.9" fill="none" stroke="#d9666a" stroke-width="1.3" stroke-opacity="0.8"/>
<path d="M773,1395.2H834M773,1392V1398.4M834,1392V1398.4" fill="none" stroke="#d9666a" stroke-width="1.3" stroke-opacity="0.8"/>
<path d="M820.6,1315.9V1412.1M817.4,1315.9H823.8M817.4,1412.1H823.8M773,1360.3H847M773,1357.1V1363.5M847,1357.1V1363.5" fill="none" stroke="#d9666a" stroke-width="1.3" stroke-opacity="0.8"/>
<path d="M833.9,1344V1399M830.7,1344H837.1M830.7,1399H837.1M820,1371.9H847M820,1368.7V1375.1M847,1368.7V1375.1" fill="none" stroke="#d9666a" stroke-width="1.3" stroke-opacity="0.8"/>
<path d="M820.6,1443.4V1542.1M817.4,1443.4H823.8M817.4,1542.1H823.8" fill="none" stroke="#d9666a" stroke-width="1.3" stroke-opacity="0.8"/>
<path d="M307.1,1514.4V1585.4M303.9,1514.4H310.3M303.9,1585.4H310.3M293.9,1550.2H318.5M293.9,1547V1553.4M318.5,1547V1553.4" fill="none" stroke="#3f7ab8" stroke-width="1.3" stroke-opacity="0.9"/>
<path d="M318.5,1478.7V1540.8M315.3,1478.7H321.7M315.3,1540.8H321.7" fill="none" stroke="#3f7ab8" stroke-width="1.3" stroke-opacity="0.9"/>
<path d="M331.1,1505.9V1570.2M327.9,1505.9H334.3M327.9,1570.2H334.3M269.6,1542.5H392M269.6,1539.3V1545.7M392,1539.3V1545.7" fill="none" stroke="#3f7ab8" stroke-width="1.3" stroke-opacity="0.9"/>
<path d="M422.7,1590.4V1605.5M419.5,1590.4H425.9M419.5,1605.5H425.9M404.6,1605.5H441.7M404.6,1602.3V1608.7M441.7,1602.3V1608.7" fill="none" stroke="#3f7ab8" stroke-width="1.3" stroke-opacity="0.9"/>
<path d="M425,1447.2V1466.8M421.8,1447.2H428.2M421.8,1466.8H428.2M392.5,1457.1H429.6M392.5,1453.9V1460.3M429.6,1453.9V1460.3" fill="none" stroke="#3f7ab8" stroke-width="1.3" stroke-opacity="0.9"/>
<path d="M454,1391.6V1459M450.8,1391.6H457.2M450.8,1459H457.2M429.5,1449.9H528.1M429.5,1446.7V1453.1M528.1,1446.7V1453.1" fill="none" stroke="#3f7ab8" stroke-width="1.3" stroke-opacity="0.9"/>
<path d="M454,1459.6V1498.4M450.8,1459.6H457.2M450.8,1498.4H457.2" fill="none" stroke="#3f7ab8" stroke-width="1.3" stroke-opacity="0.9"/>
<path d="M515.2,1357.2V1474.5M512,1357.2H518.4M512,1474.5H518.4" fill="none" stroke="#3f7ab8" stroke-width="1.3" stroke-opacity="0.9"/>
<path d="M429.5,1443.1H528.1M429.5,1439.9V1446.3M528.1,1439.9V1446.3" fill="none" stroke="#3f7ab8" stroke-width="1.3" stroke-opacity="0.9"/>
<path d="M564.5,1411.5V1430.9M561.3,1411.5H567.7M561.3,1430.9H567.7M552.3,1421.1H576.6M552.3,1417.9V1424.3M576.6,1417.9V1424.3" fill="none" stroke="#3f7ab8" stroke-width="1.3" stroke-opacity="0.9"/>
<path d="M563.6,1483.6H600.7M563.6,1480.4V1486.8M600.7,1480.4V1486.8" fill="none" stroke="#3f7ab8" stroke-width="1.3" stroke-opacity="0.9"/>
<path d="M601.3,1471.3V1520.2M598.1,1471.3H604.5M598.1,1520.2H604.5" fill="none" stroke="#3f7ab8" stroke-width="1.3" stroke-opacity="0.9"/>
<path d="M588.6,1499.4H613.4M588.6,1496.2V1502.6M613.4,1496.2V1502.6" fill="none" stroke="#3f7ab8" stroke-width="1.3" stroke-opacity="0.9"/>
<path d="M600.7,1440.5H674.5M600.7,1437.3V1443.7M674.5,1437.3V1443.7" fill="none" stroke="#3f7ab8" stroke-width="1.3" stroke-opacity="0.9"/>
<path d="M693.1,1411.7V1431.1M689.9,1411.7H696.3M689.9,1431.1H696.3M600.7,1421H784.3M600.7,1417.8V1424.2M784.3,1417.8V1424.2" fill="none" stroke="#3f7ab8" stroke-width="1.3" stroke-opacity="0.9"/>
<path d="M147.5,1609.4C154.2,1607.4 173.7,1600.7 187.5,1597.4C201.3,1594.1 216.1,1591.4 230.4,1589.5C244.7,1587.6 254.2,1587.1 273.3,1586C292.4,1584.9 319.9,1584.4 344.8,1583.1C369.7,1581.8 402,1579.7 422.7,1577.9C443.4,1576.2 453.6,1575 469,1572.6C484.4,1570.2 503.5,1566.1 515.3,1563.3C527.1,1560.5 531.4,1559 540,1555.6C548.6,1552.2 558.1,1547.7 567.2,1542.9C576.3,1538.1 586.9,1532.9 594.4,1526.6C601.9,1520.2 607.1,1513 612.5,1504.8C617.9,1496.6 623.1,1486 627,1477.6C630.9,1469.1 633.1,1461.6 636.1,1454.1C639.1,1446.5 642.1,1438.6 645.1,1432.3C648.1,1426 650.6,1420.2 654.2,1416C657.8,1411.8 661.8,1409.5 666.9,1406.9C672,1404.3 679.3,1402.5 685,1400.6C690.7,1398.6 694.9,1397 701.1,1395.2C707.3,1393.4 715.2,1391.7 722.3,1389.9C729.3,1388.1 736.3,1386.4 743.4,1384.6C750.5,1382.8 757.5,1381.1 764.6,1379.3C771.7,1377.5 778.7,1375.6 785.7,1374C792.8,1372.4 799.9,1370.9 806.9,1369.8C813.9,1368.7 821,1367.9 828,1367.2C835,1366.5 840,1366.1 849.2,1365.6C858.4,1365 877.4,1364.2 883,1363.9" fill="none" stroke="#cc4646" stroke-width="2.3" stroke-linecap="round"/>
<path d="M203.2,1586C210.1,1585.5 230.6,1584.5 244.7,1583.1C258.8,1581.7 275.7,1579.6 287.6,1577.4C299.5,1575.2 306.7,1573.1 316.2,1570.2C325.7,1567.3 337.2,1563.2 344.8,1560.2C352.4,1557.2 356.8,1555.3 362,1552.5C367.2,1549.7 372,1547.2 376.3,1543.6C380.6,1540 384.1,1536 388,1531C391.9,1526 395.6,1519.5 399.5,1513.5C403.4,1507.5 407.2,1500.8 411.1,1495C415,1489.2 418.9,1483 422.7,1478.8C426.5,1474.5 430.3,1471.8 434.2,1469.5C438.1,1467.2 440,1466.4 445.8,1464.9C451.6,1463.4 457.4,1462.2 469,1460.7C480.6,1459.2 500.1,1457.3 515.3,1455.6C530.5,1453.9 539.2,1452.3 560,1450.5C580.8,1448.7 613.3,1446.3 640,1444.5C666.7,1442.7 693.3,1440.8 720,1439.5C746.7,1438.2 772.8,1437.3 800,1436.5C827.2,1435.7 869.2,1435 883,1434.7" fill="none" stroke="#c89b3c" stroke-width="2.3" stroke-linecap="round"/>
<path d="M118.9,1596.5C125.8,1595.5 146.2,1592.9 160,1590.5C173.8,1588.1 185.3,1586 201.8,1582.2C218.3,1578.4 242.3,1572.5 259,1567.4C275.7,1562.3 290,1557.1 301.9,1551.6C313.8,1546.1 321.9,1540.1 330.5,1534.5C339.1,1528.9 345.6,1524.7 353.2,1518.1C360.8,1511.5 368.6,1502.3 376.3,1495C384,1487.7 391.8,1479.9 399.5,1474.1C407.2,1468.3 415,1463.9 422.7,1460.2C430.4,1456.5 438.1,1454.2 445.8,1452.1C453.5,1450 457.4,1449.3 469,1447.5C480.6,1445.7 500.1,1443.3 515.3,1441.2C530.5,1439.1 539.2,1437.5 560,1435C580.8,1432.5 613.3,1428.9 640,1426C666.7,1423.1 693.3,1420.1 720,1417.5C746.7,1414.9 772.8,1412.6 800,1410.5C827.2,1408.4 869.2,1406 883,1405.1" fill="none" stroke="#0b5297" stroke-width="2.3" stroke-linecap="round"/>
<path d="M691.6,1557.6C693.2,1555.2 697.1,1548.8 701.1,1543.2C705.1,1537.6 711.3,1530.8 715.9,1524.1C720.5,1517.4 724,1509.7 728.6,1503C733.2,1496.3 738.8,1489.3 743.4,1484C748,1478.7 751.9,1474.4 756.1,1471.3C760.3,1468.2 764.6,1466.5 768.8,1465.6C773,1464.7 776.9,1465.8 781.5,1466C786.1,1466.2 791,1466.3 796.3,1466.6C801.6,1466.8 807.9,1467.8 813.2,1467.5C818.5,1467.2 822,1465.4 828,1464.9C834,1464.4 840,1464.7 849.2,1464.5C858.4,1464.3 877.4,1464 883,1463.9" fill="none" stroke="#46b1a6" stroke-width="2.3" stroke-linecap="round"/>
<path d="M689.5,1583.4C692,1579.5 699.9,1566.8 704.3,1560.1C708.7,1553.4 712.2,1549.2 715.9,1543.2C719.6,1537.2 722.3,1529.4 726.5,1524.1C730.7,1518.8 736.7,1514.3 741.3,1511.5C745.9,1508.7 749.4,1509.3 754,1507.2C758.6,1505.1 764.2,1501.4 768.8,1498.8C773.4,1496.2 776.9,1493.5 781.5,1491.4C786.1,1489.3 791.4,1487.6 796.3,1486.1C801.2,1484.6 805.8,1482.6 811.1,1482.3C816.4,1482 822.7,1483.8 828,1484C833.3,1484.2 837.5,1484.6 842.8,1483.5C848.1,1482.4 853,1479.6 859.7,1477.6C866.4,1475.6 879.1,1472.3 883,1471.3" fill="none" stroke="#5c1a8c" stroke-width="2.3" stroke-linecap="round"/>
<path d="M691.6,1548.6V1566.6M691.6,1548.6H691.6M691.6,1566.6H691.6" fill="none" stroke="#46b1a6" stroke-width="1.3" stroke-opacity="0.9"/>
<path d="M703.3,1497.8V1515.8M703.3,1497.8H703.3M703.3,1515.8H703.3" fill="none" stroke="#46b1a6" stroke-width="1.3" stroke-opacity="0.9"/>
<path d="M690.2,1583.5V1603.5M690.2,1583.5H690.2M690.2,1603.5H690.2" fill="none" stroke="#5a3ab0" stroke-width="1.3" stroke-opacity="0.8"/>
<path d="M705,1550.1V1570.1M705,1550.1H705M705,1570.1H705" fill="none" stroke="#5a3ab0" stroke-width="1.3" stroke-opacity="0.8"/>
<circle cx="691.6" cy="1557.6" r="5" fill="#46b1a6"/>
<circle cx="703.3" cy="1506.8" r="5" fill="#46b1a6"/>
<circle cx="715.9" cy="1524.1" r="5" fill="#46b1a6"/>
<circle cx="728.2" cy="1497.1" r="5" fill="#46b1a6"/>
<circle cx="750.2" cy="1464.9" r="5" fill="#46b1a6"/>
<circle cx="765" cy="1462.4" r="5" fill="#46b1a6"/>
<circle cx="775.8" cy="1459.7" r="5" fill="#46b1a6"/>
<circle cx="794.2" cy="1471.3" r="5" fill="#46b1a6"/>
<circle cx="804.3" cy="1480.8" r="5" fill="#46b1a6"/>
<circle cx="818.7" cy="1452.7" r="5" fill="#46b1a6"/>
<circle cx="824.9" cy="1464.9" r="5" fill="#46b1a6"/>
<circle cx="840.1" cy="1469.2" r="5" fill="#46b1a6"/>
<circle cx="851.3" cy="1466" r="5" fill="#46b1a6"/>
<circle cx="857.6" cy="1466" r="5" fill="#46b1a6"/>
<circle cx="880.9" cy="1462.4" r="5" fill="#46b1a6"/>
<circle cx="690.2" cy="1593.5" r="5" fill="#5c1a8c"/>
<circle cx="705" cy="1560.1" r="5" fill="#5c1a8c"/>
<circle cx="715.9" cy="1499.4" r="5" fill="#5c1a8c"/>
<circle cx="728.6" cy="1503.6" r="5" fill="#5c1a8c"/>
<circle cx="739.8" cy="1524.1" r="5" fill="#5c1a8c"/>
<circle cx="752.5" cy="1497.1" r="5" fill="#5c1a8c"/>
<circle cx="765.2" cy="1504.7" r="5" fill="#5c1a8c"/>
<circle cx="777.3" cy="1514.2" r="5" fill="#5c1a8c"/>
<circle cx="792.1" cy="1468.1" r="5" fill="#5c1a8c"/>
<circle cx="800.5" cy="1471.7" r="5" fill="#5c1a8c"/>
<circle cx="812.8" cy="1502.6" r="5" fill="#5c1a8c"/>
<circle cx="825.1" cy="1475.1" r="5" fill="#5c1a8c"/>
<circle cx="840.3" cy="1487.8" r="5" fill="#5c1a8c"/>
<circle cx="849.2" cy="1490.3" r="5" fill="#5c1a8c"/>
<circle cx="865" cy="1472.3" r="5" fill="#5c1a8c"/>
<circle cx="872" cy="1475.5" r="5" fill="#5c1a8c"/>
<circle cx="880.9" cy="1470.9" r="5" fill="#5c1a8c"/>
<path d="M245.6,1574.5L247.4,1579.3L252.4,1579.5L248.5,1582.6L249.8,1587.5L245.6,1584.7L241.4,1587.5L242.7,1582.6L238.8,1579.5L243.8,1579.3Z" fill="#c89b3c"/>
<path d="M355.7,1495.2L357.5,1500L362.5,1500.2L358.6,1503.3L359.9,1508.2L355.7,1505.4L351.5,1508.2L352.8,1503.3L348.9,1500.2L353.9,1500Z" fill="#c89b3c"/>
<path d="M367.7,1503.8L369.5,1508.6L374.5,1508.8L370.6,1511.9L371.9,1516.8L367.7,1514L363.5,1516.8L364.8,1511.9L360.9,1508.8L365.9,1508.6Z" fill="#c89b3c"/>
<path d="M368.3,1452.3L370.1,1457.1L375.1,1457.3L371.2,1460.4L372.5,1465.3L368.3,1462.5L364.1,1465.3L365.4,1460.4L361.5,1457.3L366.5,1457.1Z" fill="#c89b3c"/>
<path d="M416.9,1483.8L418.7,1488.6L423.7,1488.8L419.8,1491.9L421.1,1496.8L416.9,1494L412.7,1496.8L414,1491.9L410.1,1488.8L415.1,1488.6Z" fill="#c89b3c"/>
<path d="M441.9,1472.7L443.7,1477.5L448.7,1477.7L444.8,1480.8L446.1,1485.7L441.9,1482.9L437.7,1485.7L439,1480.8L435.1,1477.7L440.1,1477.5Z" fill="#c89b3c"/>
<path d="M441.9,1487.8L443.7,1492.6L448.7,1492.8L444.8,1495.9L446.1,1500.8L441.9,1498L437.7,1500.8L439,1495.9L435.1,1492.8L440.1,1492.6Z" fill="#c89b3c"/>
<path d="M453.9,1487.8L455.7,1492.6L460.7,1492.8L456.8,1495.9L458.1,1500.8L453.9,1498L449.7,1500.8L451,1495.9L447.1,1492.8L452.1,1492.6Z" fill="#c89b3c"/>
<path d="M466.2,1448.4L468,1453.2L473,1453.4L469.1,1456.5L470.4,1461.4L466.2,1458.6L462,1461.4L463.3,1456.5L459.4,1453.4L464.4,1453.2Z" fill="#c89b3c"/>
<path d="M637.9,1450.1L639.7,1454.9L644.7,1455.1L640.8,1458.2L642.1,1463.1L637.9,1460.3L633.7,1463.1L635,1458.2L631.1,1455.1L636.1,1454.9Z" fill="#c89b3c"/>
<path d="M229.6,1567.1L235.3,1578.1L223.8,1578.1Z" fill="#cc4646"/>
<path d="M594,1517.1L599.8,1528.1L588.2,1528.1Z" fill="#cc4646"/>
<path d="M606.2,1512.5L612,1523.5L600.5,1523.5Z" fill="#cc4646"/>
<path d="M606.7,1520.7L612.5,1531.7L601,1531.7Z" fill="#cc4646"/>
<path d="M637.9,1410.7L643.6,1421.7L632.1,1421.7Z" fill="#cc4646"/>
<path d="M637.9,1424.6L643.6,1435.6L632.1,1435.6Z" fill="#cc4646"/>
<path d="M644.2,1441.8L650,1452.8L638.5,1452.8Z" fill="#cc4646"/>
<path d="M674.1,1394.3L679.9,1405.3L668.4,1405.3Z" fill="#cc4646"/>
<path d="M699.5,1369L705.2,1380L693.8,1380Z" fill="#cc4646"/>
<path d="M699.5,1396.5L705.2,1407.5L693.8,1407.5Z" fill="#cc4646"/>
<path d="M701.3,1417.9L707,1428.9L695.5,1428.9Z" fill="#cc4646"/>
<path d="M699.5,1425.4L705.2,1436.4L693.8,1436.4Z" fill="#cc4646"/>
<path d="M756.8,1355.6L762.5,1366.6L751,1366.6Z" fill="#cc4646"/>
<path d="M756.8,1370.4L762.5,1381.4L751,1381.4Z" fill="#cc4646"/>
<path d="M756.8,1452.2L762.5,1463.2L751,1463.2Z" fill="#cc4646"/>
<path d="M772.4,1381L778.1,1392L766.6,1392Z" fill="#cc4646"/>
<path d="M785.1,1353.5L790.9,1364.5L779.4,1364.5Z" fill="#cc4646"/>
<path d="M785.1,1376.1L790.9,1387.1L779.4,1387.1Z" fill="#cc4646"/>
<path d="M785.1,1424.3L790.9,1435.3L779.4,1435.3Z" fill="#cc4646"/>
<path d="M797.4,1371L803.1,1382L791.6,1382Z" fill="#cc4646"/>
<path d="M803.7,1341.8L809.5,1352.8L798,1352.8Z" fill="#cc4646"/>
<path d="M803.7,1388.4L809.5,1399.4L798,1399.4Z" fill="#cc4646"/>
<path d="M820.6,1353.5L826.4,1364.5L814.9,1364.5Z" fill="#cc4646"/>
<path d="M833.9,1365.1L839.6,1376.1L828.1,1376.1Z" fill="#cc4646"/>
<path d="M820.6,1504.7L826.4,1515.7L814.9,1515.7Z" fill="#cc4646"/>
<circle cx="307.1" cy="1550.2" r="5" fill="#0b5297"/>
<circle cx="318.5" cy="1507.3" r="5" fill="#0b5297"/>
<circle cx="331.1" cy="1542.5" r="5" fill="#0b5297"/>
<circle cx="422.7" cy="1605.5" r="5" fill="#0b5297"/>
<circle cx="425" cy="1457.1" r="5" fill="#0b5297"/>
<circle cx="454" cy="1449.9" r="5" fill="#0b5297"/>
<circle cx="454" cy="1459.6" r="5" fill="#0b5297"/>
<circle cx="515.2" cy="1419" r="5" fill="#0b5297"/>
<circle cx="515.2" cy="1443.1" r="5" fill="#0b5297"/>
<circle cx="564.5" cy="1421.1" r="5" fill="#0b5297"/>
<circle cx="582" cy="1483.6" r="5" fill="#0b5297"/>
<circle cx="601.3" cy="1489.4" r="5" fill="#0b5297"/>
<circle cx="601.3" cy="1499.4" r="5" fill="#0b5297"/>
<circle cx="637.9" cy="1440.5" r="5" fill="#0b5297"/>
<circle cx="693.1" cy="1421" r="5" fill="#0b5297"/>
<line x1="130.9" y1="1322.7" x2="159.9" y2="1322.7" stroke="#c89b3c" stroke-width="2" />
<path d="M144.8,1314.9L146.6,1319.7L151.7,1319.9L147.7,1323.1L149.1,1328.1L144.8,1325.3L140.5,1328.1L141.9,1323.1L137.9,1319.9L143,1319.7Z" fill="#c89b3c"/>
<text x="170.3" y="1329.9" font-size="25" text-anchor="start" fill="#111" >Hengduan Mountains</text>
<line x1="130.9" y1="1352.9" x2="159.9" y2="1352.9" stroke="#cc4646" stroke-width="2" />
<path d="M144.8,1345.1L151.1,1358.1L138.6,1358.1Z" fill="#cc4646"/>
<text x="170.3" y="1360.6" font-size="25" text-anchor="start" fill="#111" >Himalaya</text>
<line x1="130.9" y1="1383" x2="159.9" y2="1383" stroke="#0b5297" stroke-width="2" />
<circle cx="144.8" cy="1383" r="5.6" fill="#0b5297"/>
<text x="170.3" y="1390.8" font-size="25" text-anchor="start" fill="#111" letter-spacing="-0.5">Central Plateau Platform</text>
<line x1="130.9" y1="1414.8" x2="159.9" y2="1414.8" stroke="#46b1a6" stroke-width="2" />
<circle cx="144.8" cy="1414.8" r="5.6" fill="#46b1a6"/>
<text x="170.3" y="1422.5" font-size="25" text-anchor="start" fill="#111" letter-spacing="-0.5">East Qilian Shan</text>
<line x1="130.9" y1="1445.1" x2="159.9" y2="1445.1" stroke="#5c1a8c" stroke-width="2" />
<circle cx="144.8" cy="1445.1" r="5.6" fill="#5c1a8c"/>
<text x="170.3" y="1452.7" font-size="25" text-anchor="start" fill="#111" letter-spacing="-0.5">West Qilian Shan</text>
<line x1="118" y1="1660.8" x2="883.8" y2="1660.8" stroke="#000" stroke-width="1.9" />
<text x="4.5" y="1699.5" font-size="43.5" font-weight="bold" fill="#000">F</text>
<path d="M116.3,1736.7L117,1730.1L117.7,1734.7L118.4,1734.4L119.1,1738.6L119.8,1736.3L120.5,1735.6L121.2,1735.1L121.9,1739L122.6,1740.6L123.3,1738.7L124,1739.7L124.7,1744.4L125.4,1736.3L126.1,1739.4L126.8,1744.7L127.5,1736.5L128.2,1737.1L128.9,1743.1L129.6,1742.2L130.3,1743L131,1746.8L131.7,1741.8L132.4,1737.9L133.1,1743.4L133.8,1743.9L134.5,1749.2L135.2,1735.4L135.9,1740.5L136.6,1736.4L137.3,1739L138,1730.4L138.7,1743.3L139.4,1740.5L140.1,1746.1L140.8,1745.4L141.5,1746.6L142.2,1739.1L142.9,1746.3L143.6,1744.7L144.3,1739.4L145,1745.5L145.7,1744.8L146.4,1748.2L147.1,1738.1L147.8,1744.9L148.5,1740.2L149.2,1744.1L149.9,1743.2L150.6,1743.2L151.3,1745.9L152,1742.4L152.7,1742.3L153.4,1744.1L154.1,1734.2L154.8,1738.9L155.5,1741L156.2,1743.2L156.9,1738.4L157.6,1737.5L158.3,1735.1L159,1733.4L159.7,1738.7L160.4,1742.5L161.1,1736.8L161.8,1740.9L162.5,1738.3L163.2,1738.5L163.9,1736.2L164.6,1738.9L165.3,1730.7L166,1728.4L166.7,1729.3L167.4,1726L168.1,1734.5L168.8,1729.8L169.5,1730.5L170.2,1731.7L170.9,1732.1L171.6,1729.5L172.3,1730.9L173,1729.6L173.7,1734.6L174.4,1731.4L175.1,1733.6L175.8,1724.4L176.5,1734.9L177.2,1731.7L177.9,1727.5L178.6,1729.5L179.3,1730.3L180,1732.1L180.7,1726.1L181.4,1729.2L182.1,1728.3L182.8,1733.3L183.5,1730.8L184.2,1731.2L184.9,1732.8L185.6,1730.2L186.3,1717.5L187,1719.6L187.3,1705L187.7,1722.5L188,1664L188.4,1713.4L189,1664L189.1,1712L189.7,1708L189.8,1714.5L190.5,1712L191.2,1709.3L191.9,1705.5L192.6,1714.5L193.3,1722.4L194,1723.3L194.7,1717.2L195.4,1712.5L196.1,1722.4L196.8,1718.2L197.5,1712.2L198.2,1718.6L198.9,1713.4L199.6,1720.5L200.3,1715.8L201,1714.8L201.7,1720.4L202.4,1721.8L203.1,1715.3L203.8,1713L204.5,1720.1L205.2,1715.7L205.9,1714.6L206.6,1711.6L207.3,1708.2L208,1716.1L208.7,1714.9L209.4,1708.1L210.1,1715.1L210.8,1716.9L211.5,1711.7L212.2,1710.3L212.9,1711.2L213.6,1710.1L214.3,1707.1L215,1711.3L215.7,1707.9L216.4,1711.3L217.1,1712L217.8,1708.8L218.5,1708.5L219.2,1708.3L219.9,1707.3L220.6,1704.7L221.3,1713.2L222,1711L222.7,1714.4L223.4,1708.9L224.1,1699.9L224.8,1705.1L225.5,1701.9L226.2,1708.3L226.9,1712L227.6,1707.6L228.3,1707L229,1706.5L229.7,1707.9L230.4,1711.7L231.1,1717.5L231.8,1713.5L232.5,1703.6L233.2,1714.3L233.9,1712.1L234.6,1713.8L235.3,1716L236,1712.6L236.7,1715.4L237.4,1710.9L238.1,1708L238.8,1700.9L239.5,1703.4L240.2,1708.1L240.9,1700.2L241.6,1699.3L242.3,1702.1L243,1709.1L243.7,1701.1L244.4,1704.6L245.1,1699.7L245.8,1704.5L246.5,1709.5L247.2,1708.7L247.9,1701.2L248.6,1706.4L249.3,1697.4L250,1710.3L250.7,1703.6L251.4,1708.3L252.1,1705.7L252.8,1697.5L253.5,1698.9L254.2,1705.9L254.9,1710.5L255.6,1711.3L256.3,1703.3L257,1713.7L257.7,1709L258.4,1710.5L259.1,1707.6L259.8,1704.5L260.5,1706.7L261.2,1703.5L261.9,1712.4L262.6,1705L263.3,1708.3L264,1705L264.7,1705.3L265.4,1703.8L266.1,1706.1L266.8,1709.6L267.5,1705.3L268.2,1700.3L268.9,1709.9L269.6,1700.7L270.3,1709.8L271,1697.7L271.7,1704L272.4,1708.7L273.1,1705.9L273.8,1706.1L274.5,1692.8L275.2,1705.9L275.9,1710.5L276.6,1710.7L277.3,1716.5L278,1705.7L278.7,1706.8L279.4,1719.5L280.1,1718.1L280.8,1715.6L281.5,1714.5L282.2,1713.5L282.9,1717.2L283.6,1710.5L284.3,1706.6L285,1714L285.7,1716.9L286.4,1723.6L287.1,1707L287.8,1712.2L288.5,1714.5L289.2,1718.4L289.9,1713.8L290.6,1715.9L291.3,1722.3L292,1727.6L292.7,1723.5L293.4,1715.5L294.1,1722.7L294.8,1720.3L295.5,1717.4L296.2,1724L296.9,1720L297.6,1724L298.3,1728.4L299,1726.9L299.7,1724.8L300.4,1727.6L301.1,1732.1L301.8,1725.3L302.5,1727.3L303.2,1717.9L303.9,1731.8L304.6,1738L305.3,1735.5L306,1736.1L306.7,1742L307.4,1728.4L308.1,1740.2L308.8,1742L309.5,1739.9L310.2,1739.7L310.9,1740.7L311.6,1738L312.3,1743.3L313,1745.5L313.7,1744.2L314.4,1738L315.1,1738.8L315.8,1736.3L316.5,1743.5L317.2,1743.1L317.9,1740L318.6,1739.8L319.3,1735.5L320,1740L320.7,1738L321.4,1743.3L322.1,1743.6L322.8,1749.1L323.5,1748.7L324.2,1745.9L324.9,1737.2L325.6,1743.8L326.3,1743.7L327,1743.3L327.7,1743.7L328.4,1745.9L329.1,1744.2L329.8,1750.9L330.5,1742.8L331.2,1747.8L331.9,1748.1L332.6,1745.6L333.3,1740.6L334,1748.2L334.7,1748.4L335.4,1743.7L336.1,1740.2L336.8,1739.6L337.5,1741L338.2,1746.3L338.9,1741.9L339.6,1731L340.3,1740.4L341,1735.9L341.7,1735.4L342.4,1740.1L343.1,1736.9L343.8,1739.6L344.5,1734.1L345.2,1738.3L345.9,1738.7L346.6,1733.9L347.3,1732.6L348,1733.6L348.7,1739.4L349.4,1740.3L350.1,1734.8L350.8,1737.4L351.5,1735.6L352.2,1743.2L352.9,1738.4L353.6,1738.7L354.3,1736.5L355,1745.2L355.7,1744.5L356.4,1744.9L357.1,1741.2L357.8,1745.2L358.5,1738.7L359.2,1745.8L359.9,1746.5L360.6,1738.8L361.3,1740.5L362,1739.7L362.7,1742.6L363.4,1739.9L364.1,1740.3L364.8,1739L365.5,1744.9L366.2,1740.2L366.9,1732.4L367.6,1747L368.3,1737.4L369,1747.5L369.7,1743.6L370.4,1741L371.1,1750.6L371.8,1746L372.5,1750.7L373.2,1753.4L373.9,1752.1L374.6,1747.4L375.3,1755.5L376,1751.6L376.7,1744.1L377.4,1752.3L378.1,1747.9L378.8,1748.7L379.5,1752.2L380.2,1750.3L380.9,1745.9L381.6,1745.8L382.3,1744.2L383,1742L383.7,1732.4L384.4,1748.3L385.1,1749.3L385.8,1745.6L386.5,1734.7L387.2,1744.8L387.9,1741.9L388.6,1747.6L389.3,1745.7L390,1750.8L390.7,1741.5L391.4,1750.5L392.1,1748.1L392.8,1754.7L393.5,1748.5L394.2,1754.8L394.9,1747.4L395.6,1744.9L396.3,1755.7L397,1756.2L397.7,1757.8L398.4,1747.3L399.1,1760.1L399.8,1752.8L400.5,1752.1L401.2,1756.8L401.9,1754.6L402.6,1760.6L403.3,1757.2L404,1752.3L404.7,1763.6L405.4,1762.4L406.1,1756.3L406.8,1762L407.5,1760.2L408.2,1757L408.9,1759L409.6,1764.4L410.3,1766.4L411,1752.6L411.7,1760.3L412.4,1767.5L413.1,1764.6L413.8,1762.5L414.5,1763.2L415.2,1750.9L415.9,1764.4L416.6,1753.9L417.3,1757.7L418,1753.5L418.7,1757.3L419.4,1754L420.1,1742.4L420.8,1747.9L421.5,1750L422.2,1747.7L422.9,1756.1L423.6,1753.7L424.3,1752.7L425,1751.4L425.7,1749.5L426.4,1754.9L427.1,1746.3L427.8,1756.4L428.5,1760.5L429.2,1753.2L429.9,1756.8L430.6,1746.7L431.3,1756.7L432,1760.6L432.7,1760.4L433.4,1763.6L434.1,1764.9L434.8,1761L435.5,1762L436.2,1758.6L436.9,1768.6L437.6,1761.5L438.3,1763.7L439,1765.6L439.7,1762.4L440.4,1764.7L441.1,1769.1L441.8,1757L442.5,1764L443.2,1757.7L443.9,1771.9L444.6,1767.4L445.3,1770L446,1764.4L446.7,1772.2L447.4,1764.3L448.1,1770.5L448.8,1768.6L449.5,1761.4L450.2,1766.6L450.9,1765L451.6,1762.1L452.3,1765.5L453,1763L453.7,1766.6L454.4,1768.4L455.1,1769.1L455.8,1764.7L456.5,1764.1L457.2,1767.7L457.9,1766L458.6,1768.2L459.3,1765.7L460,1767L460.7,1772.2L461.4,1769.3L462.1,1768.1L462.8,1778.9L463.5,1781.4L464.2,1774.4L464.9,1788.8L465.6,1793.2L466.3,1797.8L467,1801.7L467.7,1802.7L468.4,1782.6L469.1,1804.2L469.8,1798L470.5,1802.2L471.2,1801.6L471.9,1796.6L472.6,1796.5L473.3,1798.3L474,1793.4L474.7,1797.4L475.4,1801.4L476.1,1791.6L476.8,1797.5L477.5,1790.6L478.2,1797.1L478.9,1788.8L479.6,1800.1L480.3,1793.6L481,1792.4L481.7,1796.1L482.4,1795.4L483.1,1795.6L483.8,1795.5L484.5,1789.3L485.2,1791.9L485.9,1795.1L486.6,1792.7L487.3,1785.6L488,1786.1L488.7,1787.1L489.4,1777.8L490.1,1790L490.8,1784.1L491.5,1780.9L492.2,1786.9L492.9,1783.4L493.6,1786L494.3,1787.4L495,1795.1L495.7,1788.9L496.4,1790.4L497.1,1793L497.8,1789.6L498.5,1793.9L499.2,1792.7L499.9,1790.3L500.6,1792.4L501.3,1792.9L502,1799.4L502.7,1796.3L503.4,1795L504.1,1796.2L504.8,1793.7L505.5,1795.6L506.2,1797.4L506.9,1792.3L507.6,1791.9L508.3,1795.5L509,1791.7L509.7,1790.7L510.4,1783.5L511.1,1797.3L511.8,1795.3L512.5,1794.8L513.2,1790.3L513.9,1789.8L514.6,1793L515.3,1795.8L516,1789.8L516.7,1789.8L517.4,1791.6L518.1,1795.9L518.8,1796L519.5,1792.9L520.2,1796.5L520.9,1791.5L521.6,1794.6L522.3,1795.2L523,1798.6L523.7,1798L524.4,1792.7L525.1,1795.6L525.8,1797.4L526.5,1798.3L527.2,1795.5L527.9,1800.8L528.6,1796.3L529.3,1795.9L530,1793.3L530.7,1781.9L531.4,1791L532.1,1792.5L532.8,1795.6L533.5,1800.3L534.2,1784.1L534.9,1795.6L535.6,1793.3L536.3,1795.1L537,1796.2L537.7,1784.6L538.4,1793L539.1,1799.1L539.8,1796.8L540.5,1801.6L541.2,1782.9L541.9,1795.9L542.6,1800.2L543.3,1800.2L544,1798.5L544.7,1797.4L545.4,1791.4L546.1,1794.2L546.8,1800.7L547.5,1795.6L548.2,1797.3L548.9,1800.9L549.6,1802.8L550.3,1801.4L551,1801.5L551.7,1796.6L552.4,1801.8L553.1,1803.7L553.8,1796.3L554.5,1800.3L555.2,1799.2L555.9,1795L556.6,1788.9L557.3,1794.2L558,1799.1L558.7,1795.2L559.4,1795.3L560.1,1800.1L560.8,1798.1L561.5,1794.1L562.2,1792.9L562.9,1802.5L563.6,1795.2L564.3,1799L565,1792.4L565.7,1786.4L566.4,1801.6L567.1,1793.8L567.8,1792.3L568.5,1796.4L569.2,1786.4L569.9,1799.1L570.6,1790.8L571.3,1793.6L572,1794.6L572.7,1797.4L573.4,1789.6L574.1,1792.5L574.8,1794L575.5,1793.6L576.2,1796.6L576.9,1792.7L577.6,1787.9L578.3,1790.8L579,1794L579.7,1789.8L580.4,1790.7L581.1,1786.1L581.8,1794.9L582.5,1786.2L583.2,1783.6L583.9,1789L584.6,1793L585.3,1788.5L586,1784.9L586.7,1785.5L587.4,1784.8L588.1,1789.2L588.8,1775.1L589.5,1792.6L590.2,1781.7L590.9,1785.3L591.6,1788.4L592.3,1785.6L593,1794.4L593.7,1794.1L594.4,1791.6L595.1,1789.2L595.8,1783.3L596.5,1793.2L597.2,1789L597.9,1798.8L598.6,1796.5L599.3,1783.2L600,1792.4L600.7,1794.7L601.4,1781.8L602.1,1794.6L602.8,1788.5L603.5,1794.9L604.2,1793.1L604.9,1792.2L605.6,1790.1L606.3,1792.8L607,1792.3L607.7,1797.5L608.4,1791.1L609.1,1790.5L609.8,1791.3L610.5,1789.6L611.2,1792.9L611.9,1793.5L612.6,1782.1L613.3,1780.1L614,1790.3L614.7,1793L615.4,1791.3L616.1,1796.3L616.8,1784.4L617.5,1785.4L618.2,1794.4L618.9,1793.3L619.6,1784.8L620.3,1792.6L621,1793.8L621.7,1787.1L622.4,1793.9L623.1,1787.1L623.8,1787.1L624.5,1794.4L625.2,1789.6L625.9,1791.5L626.6,1792.8L627.3,1793.4L628,1791.5L628.7,1797.3L629.4,1792.1L630.1,1796.3L630.8,1789.8L631.5,1789.6L632.2,1789.9L632.9,1792.8L633.6,1796L634.3,1787.5L635,1790.5L635.7,1794.4L636.4,1787.5L637.1,1789.6L637.8,1792.2L638.5,1795L639.2,1789.6L639.9,1793.8L640.6,1793.7L641.3,1795.6L642,1790.5L642.7,1784.8L643.4,1794.9L644.1,1792.5L644.8,1794.4L645.5,1794.2L646.2,1789.2L646.9,1787.6L647.6,1782.9L648.3,1777.6L649,1788.6L649.7,1792.9L650.4,1785.4L651.1,1787.3L651.8,1784.2L652.5,1784L653.2,1784.8L653.9,1789.1L654.6,1788.5L655.3,1775.3L656,1788.9L656.7,1784.5L657.4,1787.9L658.1,1784L658.8,1778.6L659.5,1781.4L660.2,1788.2L660.9,1780.4L661.6,1781.5L662.3,1777.7L663,1776.2L663.7,1781.1L664.4,1779.7L665.1,1775L665.8,1775.4L666.5,1775.3L667.2,1780.3L667.9,1783.5L668.6,1771.4L669.3,1780.5L670,1784.3L670.7,1773L671.4,1774.1L672.1,1765L672.8,1780.5L673.5,1776.9L674.2,1771.4L674.9,1775.6L675.6,1768.5L676.3,1774.4L677,1776.7L677.7,1769.4L678.4,1775.3L679.1,1770.2L679.8,1776.4L680.5,1776.3L681.2,1773L681.9,1775L682.6,1774.7L683.3,1776.5L684,1780.2L684.7,1780L685.4,1778.3L686.1,1777.3L686.8,1777.2L687.5,1777.9L688.2,1779.7L688.9,1779.2L689.6,1777.2L690.3,1771.1L691,1776.3L691.7,1776L692.4,1772.4L693.1,1771.8L693.8,1773L694.5,1773.8L695.2,1774L695.9,1772.4L696.6,1770.2L697.3,1776.5L698,1784L698.7,1781.9L699.4,1770.1L700.1,1781.6L700.8,1765.8L701.5,1776.6L702.2,1780L702.9,1781.4L703.6,1780.7L704.3,1764.2L705,1781.6L705.7,1776.6L706.4,1788.5L707.1,1778.8L707.8,1779.5L708.5,1781.3L709.2,1790.3L709.9,1776.7L710.6,1788.4L711.3,1789.5L712,1791.6L712.7,1787.7L713.4,1794.2L714.1,1785.4L714.8,1784.8L715.5,1795L716.2,1797.1L716.9,1800.3L717.6,1795.5L718.3,1799.8L719,1805.6L719.7,1796.9L720.4,1802.6L721.1,1804.2L721.8,1803L722.5,1806.3L723.2,1808.1L723.9,1804.5L724.6,1810.8L725.3,1807.9L726,1808.5L726.7,1811L727.4,1808.3L728.1,1812.9L728.8,1804.7L729.5,1813.1L730.2,1813.2L730.9,1807.6L731.6,1809.7L732.3,1805.4L733,1811.2L733.7,1804.8L734.4,1809.8L735.1,1808.6L735.8,1804.9L736.5,1802.2L737.2,1811.3L737.9,1808.7L738.6,1812.1L739.3,1807.1L740,1806.3L740.7,1796.1L741.4,1807.4L742.1,1806.9L742.8,1806.5L743.5,1809.2L744.2,1804.2L744.9,1803.6L745.6,1810.7L746.3,1811.4L747,1801.6L747.7,1806L748.4,1811.8L749.1,1808.4L749.8,1805.5L750.5,1805.7L751.2,1811.8L751.9,1800.5L752.6,1793.5L753.3,1809.3L754,1813.6L754.7,1812.5L755.4,1807.5L756.1,1814.6L756.8,1815L757.5,1813.2L758.2,1803.3L758.9,1807.1L759.6,1808.5L760.3,1802.3L761,1812.4L761.7,1809.4L762.4,1816.7L763.1,1810L763.8,1811.4L764.5,1816.5L765.2,1813.8L765.9,1816.3L766.6,1815.6L767.3,1815.6L768,1814.6L768.7,1814L769.4,1809.1L770.1,1814.8L770.8,1813.6L771.5,1809.1L772.2,1815.3L772.9,1814.5L773.6,1821.6L774.3,1820.9L775,1818.8L775.7,1810.5L776.4,1813.2L777.1,1809.9L777.8,1812.4L778.5,1814.3L779.2,1814.3L779.9,1815.7L780.6,1820.1L781.3,1820.6L782,1815.2L782.7,1812.6L783.4,1815.9L784.1,1818.1L784.8,1818.2L785.5,1821.8L786.2,1812L786.9,1817.5L787.6,1814.1L788.3,1811.9L789,1814.6L789.7,1821.1L790.4,1817.5L791.1,1810.7L791.8,1813.8L792.5,1816.1L793.2,1815.6L793.9,1803.2L794.6,1814.3L795.3,1816.6L796,1806.2L796.7,1812.1L797.4,1816L798.1,1816.6L798.8,1816.1L799.5,1815.9L800.2,1813.2L800.9,1814.9L801.6,1819.6L802.3,1816.8L803,1820.4L803.7,1812.3L804.4,1822L805.1,1819.1L805.8,1819.4L806.5,1819.4L807.2,1821.7L807.9,1818.7L808.6,1819.2L809.3,1824L810,1821L810.7,1818L811.4,1815.1L812.1,1818.8L812.8,1817.6L813.5,1818.3L814.2,1816.2L814.9,1818.4L815.6,1816.8L816.3,1814.4L817,1818.6L817.7,1820L818.4,1818.7L819.1,1818.1L819.8,1816.8L820.5,1808L821.2,1816.1L821.9,1809.4L822.6,1821.9L823.3,1813.8L824,1814.6L824.7,1815.7L825.4,1818.8L826.1,1818.5L826.8,1822.5L827.5,1818.6L828.2,1816.3L828.9,1816.7L829.6,1822.1L830.3,1814L831,1820L831.7,1816.6L832.4,1817.1L833.1,1817.8L833.8,1819.3L834.5,1813.1L835.2,1816.4L835.9,1820.3L836.6,1821.3L837.3,1825.9L838,1824L838.7,1817L839.4,1820.8L840.1,1821.5L840.8,1826.6L841.5,1818.3L842.2,1825.7L842.9,1827.7L843.6,1813.4L844.3,1832.3L845,1830L845.7,1825.3L846.4,1825.8L847.1,1822.2L847.8,1824.1L848.5,1827.2L849.2,1830L849.9,1829.2L850.6,1834.1L851.3,1831.2L852,1838.2L852.7,1834.1L853.4,1823.1L854.1,1839.5L854.8,1833.6L855.5,1836.7L856.2,1828.7L856.9,1832.6L857.6,1834.9L858.3,1835.5L859,1837.4L859.7,1832.9L860.4,1836.2L861.1,1832.2L861.8,1838.2L862.5,1829.9L863.2,1826.5L863.9,1832.2L864.6,1839.3L865.3,1833.4L866,1841.5L866.7,1842.6L867.4,1828.5L868.1,1850.2L868.8,1840L869.5,1844.2L870.2,1846.8L870.9,1843.1L871.6,1843.9L872.3,1858.8L873,1846.3L873.7,1846.4L874.4,1848.2L875.1,1838.7L875.8,1850.3L876.5,1844.9L877.2,1848.3L877.9,1840.3L878.6,1849.1L879.3,1842.8L880,1861.7L880.7,1841.6L881.4,1854.8L882.1,1847.7L882.8,1840.5L882.8,1880.8L882.1,1910.8L881.4,1896L880.7,1875.5L880,1876.6L879.3,1879.5L878.6,1879.2L877.9,1900.2L877.2,1892.4L876.5,1884.1L875.8,1871.2L875.1,1880.8L874.4,1866L873.7,1903.9L873,1873.5L872.3,1878.2L871.6,1882.7L870.9,1878.1L870.2,1878.7L869.5,1878.8L868.8,1872.9L868.1,1885.4L867.4,1865.2L866.7,1859.6L866,1865.7L865.3,1871.5L864.6,1859.5L863.9,1871.6L863.2,1860.2L862.5,1863.3L861.8,1869.3L861.1,1855.1L860.4,1866.5L859.7,1860.1L859,1869.7L858.3,1859.7L857.6,1864.7L856.9,1866.5L856.2,1863.5L855.5,1849.3L854.8,1855.6L854.1,1862.4L853.4,1853.8L852.7,1851.5L852,1850.1L851.3,1855L850.6,1857.4L849.9,1851.6L849.2,1850.9L848.5,1849.9L847.8,1850.2L847.1,1846.2L846.4,1841.8L845.7,1851.3L845,1840.2L844.3,1849.6L843.6,1845.4L842.9,1839.6L842.2,1840.8L841.5,1841.8L840.8,1834.3L840.1,1836.6L839.4,1836.8L838.7,1835.5L838,1832.2L837.3,1842.3L836.6,1834.2L835.9,1836.7L835.2,1831.9L834.5,1829.6L833.8,1838.1L833.1,1829.9L832.4,1831.5L831.7,1833.9L831,1834.1L830.3,1828.6L829.6,1834.2L828.9,1834L828.2,1835.8L827.5,1834.6L826.8,1834.1L826.1,1832.9L825.4,1832.3L824.7,1832.2L824,1843.4L823.3,1832.4L822.6,1833L821.9,1834.9L821.2,1836.8L820.5,1833.3L819.8,1834L819.1,1827.3L818.4,1830.8L817.7,1831.7L817,1832.2L816.3,1839L815.6,1836.6L814.9,1831.5L814.2,1833.9L813.5,1834.6L812.8,1831.9L812.1,1829.4L811.4,1831.8L810.7,1834L810,1833.7L809.3,1834.7L808.6,1834.3L807.9,1833.1L807.2,1835.7L806.5,1832L805.8,1838.9L805.1,1836.2L804.4,1836.6L803.7,1833.3L803,1829.4L802.3,1833.1L801.6,1828.5L800.9,1831.5L800.2,1827L799.5,1830.1L798.8,1829.1L798.1,1832.8L797.4,1834.5L796.7,1831.5L796,1829.4L795.3,1825.4L794.6,1835.6L793.9,1830.1L793.2,1824.1L792.5,1823.7L791.8,1835.7L791.1,1827L790.4,1826.7L789.7,1828.2L789,1828.1L788.3,1827.4L787.6,1829.8L786.9,1831.6L786.2,1831.5L785.5,1827.2L784.8,1833.1L784.1,1829.8L783.4,1830.5L782.7,1832.5L782,1826.8L781.3,1828.9L780.6,1829.4L779.9,1831.4L779.2,1834.4L778.5,1832.8L777.8,1833.6L777.1,1836L776.4,1833.7L775.7,1831.6L775,1837.5L774.3,1827.8L773.6,1828.7L772.9,1833.7L772.2,1828.8L771.5,1834.9L770.8,1836.6L770.1,1834.3L769.4,1829.2L768.7,1826.3L768,1832.3L767.3,1828.5L766.6,1825.7L765.9,1824.4L765.2,1827.1L764.5,1824.3L763.8,1828.7L763.1,1825.4L762.4,1827L761.7,1827.4L761,1826.1L760.3,1824.1L759.6,1824.7L758.9,1824.5L758.2,1825.3L757.5,1822.8L756.8,1824.6L756.1,1825L755.4,1823.9L754.7,1827.6L754,1821.6L753.3,1820.4L752.6,1822.4L751.9,1819.6L751.2,1820L750.5,1825.8L749.8,1826L749.1,1823.2L748.4,1822.9L747.7,1821.5L747,1821.5L746.3,1821.4L745.6,1818.3L744.9,1822.2L744.2,1824.9L743.5,1820.8L742.8,1825.6L742.1,1820.9L741.4,1822.6L740.7,1819.5L740,1819.1L739.3,1823L738.6,1818.6L737.9,1818.1L737.2,1817.2L736.5,1818.3L735.8,1825.5L735.1,1827.5L734.4,1818.9L733.7,1823.4L733,1817.4L732.3,1827.7L731.6,1824.8L730.9,1819.6L730.2,1817.7L729.5,1825.3L728.8,1824.2L728.1,1828.1L727.4,1822L726.7,1822.4L726,1820.6L725.3,1819.3L724.6,1817.9L723.9,1826.9L723.2,1821.8L722.5,1822L721.8,1820.7L721.1,1820.4L720.4,1815.1L719.7,1818.7L719,1812.8L718.3,1810.2L717.6,1809.6L716.9,1811.7L716.2,1809.5L715.5,1809.7L714.8,1807.1L714.1,1803L713.4,1805.4L712.7,1805.1L712,1799.2L711.3,1799.4L710.6,1799.4L709.9,1797.7L709.2,1797.3L708.5,1796.6L707.8,1798.2L707.1,1802.7L706.4,1797.3L705.7,1794.4L705,1803.6L704.3,1799L703.6,1792.7L702.9,1793.6L702.2,1796.5L701.5,1791.6L700.8,1793.3L700.1,1789.1L699.4,1791.2L698.7,1795.9L698,1793.2L697.3,1794.9L696.6,1792.1L695.9,1792.4L695.2,1788.9L694.5,1789L693.8,1788.7L693.1,1792.8L692.4,1796.3L691.7,1797.7L691,1789.2L690.3,1794.1L689.6,1796.2L688.9,1792.9L688.2,1795.2L687.5,1794.5L686.8,1792.4L686.1,1794.5L685.4,1793.2L684.7,1792.7L684,1792.9L683.3,1796.4L682.6,1788.6L681.9,1791.4L681.2,1792.8L680.5,1792.2L679.8,1790.6L679.1,1792.1L678.4,1789.5L677.7,1787.9L677,1791.9L676.3,1788.1L675.6,1787.9L674.9,1789.7L674.2,1795.1L673.5,1793.7L672.8,1797.1L672.1,1798.3L671.4,1794L670.7,1789.8L670,1793.3L669.3,1793.2L668.6,1798.4L667.9,1796.2L667.2,1794.5L666.5,1795.8L665.8,1799.8L665.1,1801.3L664.4,1800.2L663.7,1796.1L663,1794.9L662.3,1796.9L661.6,1799.4L660.9,1803.7L660.2,1798.6L659.5,1804L658.8,1800.3L658.1,1798.2L657.4,1797.5L656.7,1797.1L656,1801.4L655.3,1798L654.6,1798.6L653.9,1799.5L653.2,1798.7L652.5,1801.3L651.8,1798.1L651.1,1803.1L650.4,1812.1L649.7,1796.9L649,1801.7L648.3,1798.4L647.6,1804.4L646.9,1797.8L646.2,1802.9L645.5,1802.3L644.8,1803.8L644.1,1803.8L643.4,1810.1L642.7,1805.6L642,1801.3L641.3,1801.2L640.6,1800.3L639.9,1807.7L639.2,1806.8L638.5,1801L637.8,1807L637.1,1806.1L636.4,1807.9L635.7,1808.4L635,1801.8L634.3,1806.3L633.6,1806.2L632.9,1808.1L632.2,1802.5L631.5,1807.5L630.8,1811.1L630.1,1806L629.4,1807.9L628.7,1807.1L628,1809.9L627.3,1804L626.6,1803.5L625.9,1809.8L625.2,1803.4L624.5,1812.6L623.8,1807L623.1,1809.1L622.4,1803.9L621.7,1805.6L621,1807.2L620.3,1807.9L619.6,1804.6L618.9,1802.3L618.2,1814L617.5,1806.8L616.8,1803.7L616.1,1805L615.4,1801.9L614.7,1806L614,1804.6L613.3,1806.3L612.6,1802L611.9,1806.1L611.2,1805.3L610.5,1810.2L609.8,1815.5L609.1,1812L608.4,1805.6L607.7,1808.6L607,1806.8L606.3,1806L605.6,1804.1L604.9,1808.4L604.2,1813.1L603.5,1811L602.8,1806L602.1,1808.7L601.4,1812.4L600.7,1807L600,1809.7L599.3,1809.1L598.6,1810.5L597.9,1808.8L597.2,1807.1L596.5,1805.2L595.8,1806.7L595.1,1806.2L594.4,1801.6L593.7,1809.5L593,1803.2L592.3,1807.2L591.6,1804.8L590.9,1804.7L590.2,1803.4L589.5,1802.5L588.8,1802.8L588.1,1799.1L587.4,1799.9L586.7,1804.1L586,1796.8L585.3,1797.2L584.6,1798.8L583.9,1800.6L583.2,1804.8L582.5,1805.4L581.8,1799.5L581.1,1802.1L580.4,1800.7L579.7,1805.3L579,1805.7L578.3,1815.9L577.6,1805.3L576.9,1806.4L576.2,1806L575.5,1804.5L574.8,1811.6L574.1,1803.5L573.4,1808.3L572.7,1806.5L572,1810.4L571.3,1808.6L570.6,1814.8L569.9,1809.8L569.2,1807.1L568.5,1808.8L567.8,1814L567.1,1806.1L566.4,1814.1L565.7,1805.7L565,1814.7L564.3,1809.8L563.6,1810.9L562.9,1812.6L562.2,1809.3L561.5,1813.3L560.8,1813.6L560.1,1807.2L559.4,1815.8L558.7,1809.6L558,1809.5L557.3,1812.8L556.6,1816.1L555.9,1818.8L555.2,1811.7L554.5,1808.7L553.8,1814.6L553.1,1813.2L552.4,1813.1L551.7,1815.8L551,1813.7L550.3,1815.1L549.6,1812.7L548.9,1814.1L548.2,1818.1L547.5,1812.2L546.8,1809.5L546.1,1811.6L545.4,1811.1L544.7,1813L544,1814.4L543.3,1806.9L542.6,1810.7L541.9,1807.9L541.2,1814.4L540.5,1818.2L539.8,1809.2L539.1,1809.6L538.4,1805.3L537.7,1807.1L537,1811.3L536.3,1806.6L535.6,1808.3L534.9,1810.8L534.2,1810.6L533.5,1804.7L532.8,1809.2L532.1,1811.3L531.4,1811.5L530.7,1810.3L530,1811.1L529.3,1811.3L528.6,1812.1L527.9,1810.8L527.2,1808.1L526.5,1808.8L525.8,1811.7L525.1,1813.1L524.4,1813.1L523.7,1812.2L523,1807.5L522.3,1808.1L521.6,1816.8L520.9,1811.5L520.2,1805.6L519.5,1809.1L518.8,1805.5L518.1,1808.8L517.4,1812.9L516.7,1815.7L516,1809.8L515.3,1812.6L514.6,1814.3L513.9,1812.1L513.2,1808.8L512.5,1810.7L511.8,1814.7L511.1,1811.6L510.4,1810.9L509.7,1806.7L509,1812.3L508.3,1810.1L507.6,1811.3L506.9,1813.8L506.2,1808L505.5,1813.5L504.8,1807.9L504.1,1810.1L503.4,1806.3L502.7,1808L502,1812.6L501.3,1806.1L500.6,1806.1L499.9,1810.6L499.2,1807.5L498.5,1808.2L497.8,1808.1L497.1,1809.4L496.4,1808L495.7,1803.3L495,1808L494.3,1804.2L493.6,1801.8L492.9,1806.2L492.2,1803.5L491.5,1804.8L490.8,1807.1L490.1,1801L489.4,1802.3L488.7,1805.8L488,1806.9L487.3,1803.7L486.6,1803.7L485.9,1803.1L485.2,1805.6L484.5,1807.2L483.8,1805.7L483.1,1807.6L482.4,1808.6L481.7,1803.5L481,1805.3L480.3,1806.9L479.6,1804.1L478.9,1804.3L478.2,1810.9L477.5,1807.8L476.8,1810.9L476.1,1809.4L475.4,1810L474.7,1812.9L474,1806.4L473.3,1810.6L472.6,1813.7L471.9,1807.6L471.2,1814.7L470.5,1813.8L469.8,1808.9L469.1,1812.8L468.4,1815.9L467.7,1812L467,1810.1L466.3,1806.5L465.6,1805.5L464.9,1801.4L464.2,1796.2L463.5,1798.3L462.8,1788.4L462.1,1785.3L461.4,1787.2L460.7,1781.5L460,1786.5L459.3,1779.2L458.6,1783.5L457.9,1782.3L457.2,1784.2L456.5,1783.7L455.8,1780.7L455.1,1780L454.4,1779.5L453.7,1780.9L453,1779.9L452.3,1781.5L451.6,1783.7L450.9,1780.5L450.2,1780.6L449.5,1780.8L448.8,1782.9L448.1,1780.9L447.4,1780.4L446.7,1779.5L446,1783.9L445.3,1781.3L444.6,1780.5L443.9,1780.3L443.2,1778.8L442.5,1784.8L441.8,1780.5L441.1,1779.3L440.4,1777.9L439.7,1776.7L439,1777.8L438.3,1777.4L437.6,1775L436.9,1777.4L436.2,1780.6L435.5,1775L434.8,1776.3L434.1,1772.4L433.4,1772.7L432.7,1772.3L432,1772.4L431.3,1774.7L430.6,1772.4L429.9,1776.1L429.2,1770.7L428.5,1774.5L427.8,1768L427.1,1768.8L426.4,1771L425.7,1763.2L425,1767.7L424.3,1762.7L423.6,1765.5L422.9,1767.9L422.2,1771.3L421.5,1764.7L420.8,1770.6L420.1,1773L419.4,1772.8L418.7,1770.2L418,1770.7L417.3,1772.7L416.6,1774.8L415.9,1778.6L415.2,1777.8L414.5,1773.4L413.8,1779.6L413.1,1774.5L412.4,1777.2L411.7,1775.7L411,1774.5L410.3,1777.3L409.6,1774.5L408.9,1774L408.2,1776.4L407.5,1774L406.8,1783.6L406.1,1776.1L405.4,1772.6L404.7,1769.2L404,1773.8L403.3,1775.3L402.6,1768.3L401.9,1774.4L401.2,1770.9L400.5,1765.9L399.8,1765.2L399.1,1774.5L398.4,1766.7L397.7,1771L397,1766.6L396.3,1770.6L395.6,1769.8L394.9,1765.4L394.2,1764.6L393.5,1769.8L392.8,1768.3L392.1,1769.8L391.4,1764.2L390.7,1763.9L390,1761.2L389.3,1759.7L388.6,1762.8L387.9,1761.6L387.2,1760L386.5,1759.6L385.8,1758.9L385.1,1754.1L384.4,1759.2L383.7,1756.6L383,1757L382.3,1755.1L381.6,1756.1L380.9,1760.9L380.2,1760.1L379.5,1761.5L378.8,1764.7L378.1,1764.3L377.4,1769.3L376.7,1761.4L376,1766.1L375.3,1763.3L374.6,1760.7L373.9,1764L373.2,1761.2L372.5,1765.6L371.8,1760.3L371.1,1766.4L370.4,1760.1L369.7,1758.7L369,1754.2L368.3,1758L367.6,1757.3L366.9,1759.4L366.2,1755.1L365.5,1754.5L364.8,1754.9L364.1,1755.6L363.4,1762.5L362.7,1759.6L362,1757.2L361.3,1765.3L360.6,1760.4L359.9,1756.8L359.2,1761.3L358.5,1758.1L357.8,1758.8L357.1,1754.8L356.4,1756.7L355.7,1758.6L355,1755.7L354.3,1757.7L353.6,1758.4L352.9,1757.5L352.2,1754.6L351.5,1758.4L350.8,1750.3L350.1,1750.4L349.4,1746.7L348.7,1748.4L348,1745.1L347.3,1750L346.6,1753.3L345.9,1748.5L345.2,1749.2L344.5,1752.5L343.8,1749.2L343.1,1747.8L342.4,1752.9L341.7,1750.9L341,1755.5L340.3,1750.3L339.6,1756L338.9,1754.6L338.2,1759.3L337.5,1753.6L336.8,1757.2L336.1,1757.3L335.4,1759.8L334.7,1757.8L334,1758.6L333.3,1754.2L332.6,1755.9L331.9,1759L331.2,1758.6L330.5,1759.3L329.8,1762.8L329.1,1755.8L328.4,1758.3L327.7,1762.7L327,1756.9L326.3,1756.8L325.6,1758.1L324.9,1756.5L324.2,1757.3L323.5,1759.2L322.8,1762.6L322.1,1754.6L321.4,1757L320.7,1759L320,1753L319.3,1756.8L318.6,1754.9L317.9,1754.4L317.2,1753.2L316.5,1751.2L315.8,1754.9L315.1,1753.8L314.4,1756.6L313.7,1754.9L313,1754.5L312.3,1751L311.6,1752.6L310.9,1750.3L310.2,1753.8L309.5,1757.1L308.8,1751.9L308.1,1747.9L307.4,1752.5L306.7,1751.6L306,1749.7L305.3,1750L304.6,1744.6L303.9,1748.6L303.2,1747.8L302.5,1746.1L301.8,1742.7L301.1,1742.4L300.4,1746.6L299.7,1743.1L299,1741.3L298.3,1738.2L297.6,1740.1L296.9,1742.6L296.2,1735.1L295.5,1734L294.8,1740.4L294.1,1745.1L293.4,1736.6L292.7,1735L292,1733.9L291.3,1734.1L290.6,1739.8L289.9,1740.5L289.2,1741.7L288.5,1736.2L287.8,1738L287.1,1727.7L286.4,1732.8L285.7,1727.5L285,1731.8L284.3,1728.8L283.6,1733.1L282.9,1732.4L282.2,1734.5L281.5,1736.1L280.8,1731.3L280.1,1729.3L279.4,1729.2L278.7,1731.5L278,1724.9L277.3,1728.6L276.6,1726.5L275.9,1725.4L275.2,1724.3L274.5,1725.3L273.8,1724.4L273.1,1723.1L272.4,1722.7L271.7,1721L271,1721L270.3,1722L269.6,1731.7L268.9,1722.2L268.2,1719L267.5,1717.4L266.8,1719.3L266.1,1720.6L265.4,1723.6L264.7,1722.1L264,1724.2L263.3,1721.1L262.6,1718L261.9,1727.3L261.2,1730.7L260.5,1723.5L259.8,1726.2L259.1,1729.7L258.4,1727.5L257.7,1726.9L257,1728.7L256.3,1728.7L255.6,1720.3L254.9,1724.7L254.2,1724.2L253.5,1722.4L252.8,1723.7L252.1,1721.1L251.4,1720.2L250.7,1717.4L250,1723.8L249.3,1721L248.6,1723.2L247.9,1724.1L247.2,1729L246.5,1725.9L245.8,1722.3L245.1,1718.2L244.4,1730.1L243.7,1722.5L243,1725L242.3,1719.8L241.6,1722.4L240.9,1722.8L240.2,1724.8L239.5,1721.2L238.8,1726.2L238.1,1728.9L237.4,1730.7L236.7,1735.6L236,1728.2L235.3,1729.4L234.6,1727.3L233.9,1729.2L233.2,1729L232.5,1725L231.8,1727.2L231.1,1728.1L230.4,1731.9L229.7,1726L229,1726.3L228.3,1730.6L227.6,1728.7L226.9,1719.5L226.2,1725.9L225.5,1722.3L224.8,1728.2L224.1,1720.3L223.4,1728L222.7,1721.2L222,1732.8L221.3,1725.2L220.6,1722.7L219.9,1727.1L219.2,1727.5L218.5,1732.4L217.8,1728.1L217.1,1730.1L216.4,1722L215.7,1729.5L215,1732.1L214.3,1726.6L213.6,1724.7L212.9,1731.3L212.2,1728.3L211.5,1730L210.8,1728.6L210.1,1733L209.4,1735.2L208.7,1731L208,1733.1L207.3,1732L206.6,1729.5L205.9,1732.3L205.2,1736.8L204.5,1734.1L203.8,1733.8L203.1,1732.4L202.4,1733.3L201.7,1729.9L201,1737.3L200.3,1734.7L199.6,1729.6L198.9,1733.6L198.2,1738.8L197.5,1736.1L196.8,1731L196.1,1739.2L195.4,1737.8L194.7,1734.2L194,1729.3L193.3,1731L192.6,1725.2L191.9,1730.3L191.2,1727.5L190.5,1721.7L189.8,1723L189.1,1726.1L188.4,1729.2L187.7,1732.8L187,1740.3L186.3,1737L185.6,1742.2L184.9,1743.1L184.2,1746.1L183.5,1745.6L182.8,1742.7L182.1,1744.1L181.4,1741.9L180.7,1746.7L180,1743L179.3,1751.1L178.6,1740.9L177.9,1743.3L177.2,1742.6L176.5,1741.1L175.8,1745.3L175.1,1739.9L174.4,1741.1L173.7,1742L173,1742.1L172.3,1745.4L171.6,1751.6L170.9,1744.3L170.2,1744.7L169.5,1753.1L168.8,1747.1L168.1,1746.8L167.4,1741L166.7,1748.7L166,1747.4L165.3,1748.2L164.6,1744.7L163.9,1743.5L163.2,1749.2L162.5,1746.9L161.8,1747.9L161.1,1752.2L160.4,1749.3L159.7,1748.3L159,1752.2L158.3,1752.1L157.6,1751.9L156.9,1752.8L156.2,1753.5L155.5,1756.7L154.8,1754.1L154.1,1756.1L153.4,1753.9L152.7,1754.8L152,1757.7L151.3,1758.4L150.6,1754.9L149.9,1753.4L149.2,1756.8L148.5,1755.3L147.8,1760.2L147.1,1758.3L146.4,1754.7L145.7,1758.9L145,1756.9L144.3,1758.1L143.6,1756.3L142.9,1759.6L142.2,1757.7L141.5,1764.2L140.8,1771.7L140.1,1758.2L139.4,1761.5L138.7,1759.5L138,1759.3L137.3,1759.8L136.6,1759.9L135.9,1754.4L135.2,1754.9L134.5,1754.7L133.8,1757.4L133.1,1758.8L132.4,1752.7L131.7,1755.1L131,1757.6L130.3,1758.9L129.6,1756.8L128.9,1755.6L128.2,1755.7L127.5,1756.3L126.8,1753.8L126.1,1753L125.4,1754.9L124.7,1755.4L124,1750.7L123.3,1755.5L122.6,1752.2L121.9,1748.5L121.2,1752.6L120.5,1748.3L119.8,1750.6L119.1,1756.2L118.4,1750.5L117.7,1749.7L117,1754.3L116.3,1750.5Z" fill="#1597d6" stroke="#1597d6" stroke-width="0.6" stroke-linejoin="round"/>
<path d="M116,1743.1L119.9,1743.1L123.8,1747.7L127.6,1749.7L131.8,1746.9L136,1751.5L139.6,1751.6L143.3,1750.2L146.9,1752.8L150.1,1751.6L153.4,1748.8L156.6,1748.2L159.8,1744.5L163.1,1741.2L166.3,1739.3L170.2,1738.8L174,1736.9L177.9,1736.6L181.4,1736.8L184.8,1739.3L189.5,1718L195.3,1727.7L200.1,1726.8L204.9,1726.5L208.8,1724.8L212.6,1721L216.5,1719.9L220.4,1720.4L224.2,1716L228.1,1717.2L232.1,1720.7L236,1723.2L242.1,1713.2L247.1,1717.7L251.1,1714.7L257.2,1718.7L263.2,1715.7L266.5,1713.4L269.8,1712L274.3,1718.7L278.3,1723.2L283.4,1725.2L287.4,1725.7L292.4,1730.3L295.5,1729.3L300.5,1736.3L305.5,1743.4L310.6,1748.4L314.6,1746.9L320.6,1750.4L325.1,1753.9L329.7,1753.4L333.2,1750.5L336.8,1748.3L340.3,1747L344.1,1743.4L348,1743.1L351.9,1748.8L355.7,1750.3L359.6,1752.8L363.5,1750.5L367.4,1750.9L371.2,1753.7L375.1,1756.1L378.9,1760.5L382.8,1748.2L386.7,1755.3L390.6,1758.6L394.5,1761.1L398.3,1759.9L402.2,1764.4L406.1,1766.6L409.9,1769.4L413.8,1770.2L417.7,1766.3L421.5,1763.1L425.4,1758.6L429.2,1763.3L433.1,1768.3L437,1770.9L440.8,1773.2L444.7,1775.2L448.1,1774.3L451.4,1775.6L454.8,1775.4L458.2,1775.2L462,1778L466,1803.1L469.8,1806.9L476,1803L479.7,1802L483.4,1801.1L488.3,1796.3L491.6,1796.7L494.9,1797.5L498.2,1800.3L501.5,1802.2L504.8,1802.4L508.1,1799.6L511.4,1802.2L514.7,1804.9L518,1804.6L521.3,1803.7L524.6,1802.5L527.9,1804.9L531.2,1801.7L534.5,1801.7L537.8,1802.4L541.9,1806.7L546.1,1805.4L550.2,1807.8L553.6,1806.6L557.1,1803.9L560.5,1803.8L563.9,1802.7L567.4,1803.1L570.8,1802.4L574.1,1798.4L577.4,1800.5L580.7,1797L584,1795.1L587.3,1794.2L591.4,1796.6L595.6,1801.5L599.7,1803.7L603,1804.6L606.3,1801L609.6,1802.5L612.9,1801.4L616.2,1798.3L619.5,1800.4L622.8,1799.5L626.2,1797.7L629.5,1800.8L632.8,1800.4L636.9,1798.5L641.1,1797.9L645.2,1796.3L648.5,1792.9L651.8,1793.9L655.1,1793.6L658.4,1791.1L661.7,1791.3L665.6,1789.3L669.5,1788.7L673.5,1784.5L677.4,1781.8L681.9,1784L686.4,1788L690.5,1790.3L694.7,1783.9L698.8,1785.9L702.2,1786.8L705.7,1790.5L709.1,1792.1L713.2,1798.6L717.4,1806.6L721.5,1808.4L725.7,1816.1L729.3,1816.1L732.9,1816.5L736.5,1814.1L740.1,1814.8L744.2,1816.7L748.4,1815.4L752.5,1814.8L755.8,1818L759.1,1816.2L762.4,1819.8L765.7,1823.5L769,1823.1L772.3,1826.1L775.6,1825.6L778.9,1824.4L782.2,1825L785.5,1825.2L789.6,1822.3L793.8,1821L797.9,1824.5L802.1,1824.3L806.2,1827.2L810.3,1826.7L814.5,1823.3L818.6,1825.2L821.9,1823.7L825.2,1828.3L828.5,1826.5L831.8,1827.1L835.1,1827.2L839.2,1827.5L843.3,1833.4L847.5,1838.5L851.6,1843.7L855.7,1848.7L859.9,1846.5L864,1850.7L868.1,1853.5L872.2,1862.3L875.7,1864.2L879.1,1865.8L882.6,1868.5" fill="none" stroke="#ea1f2e" stroke-width="2.9" stroke-linejoin="round" stroke-linecap="round"/>
<text x="465.5" y="1729.6" font-size="25" text-anchor="middle" fill="#111" >EOT</text>
<line x1="466" y1="1739.3" x2="466" y2="1766" stroke="#231815" stroke-width="2" />
<path d="M460.2,1763L466,1778L471.8,1763Z" fill="#231815"/>
<text x="715.5" y="1731" font-size="25" text-anchor="middle" fill="#111" >MMCT</text>
<line x1="712.4" y1="1740.5" x2="712.4" y2="1767" stroke="#231815" stroke-width="2" />
<path d="M706.6,1764L712.4,1779L718.2,1764Z" fill="#231815"/>
<line x1="884.2" y1="1730.7" x2="896.3" y2="1730.7" stroke="#e02020" stroke-width="1.8" />
<text x="903.5" y="1737.1" font-size="25.5" text-anchor="start" fill="#c8102e" >12</text>
<line x1="884.2" y1="1766.3" x2="896.3" y2="1766.3" stroke="#e02020" stroke-width="1.8" />
<text x="903.5" y="1775.8" font-size="25.5" text-anchor="start" fill="#c8102e" >8</text>
<line x1="884.2" y1="1801" x2="896.3" y2="1801" stroke="#e02020" stroke-width="1.8" />
<text x="903.5" y="1809.9" font-size="25.5" text-anchor="start" fill="#c8102e" >4</text>
<line x1="884.2" y1="1836" x2="896.3" y2="1836" stroke="#e02020" stroke-width="1.8" />
<text x="903.5" y="1844.9" font-size="25.5" text-anchor="start" fill="#c8102e" >0</text>
<line x1="884.2" y1="1868.5" x2="896.3" y2="1868.5" stroke="#e02020" stroke-width="1.8" />
<text x="903.5" y="1875.4" font-size="25.5" text-anchor="start" fill="#c8102e" >-4</text>
<text x="0" y="0" font-size="25.2" text-anchor="middle" fill="#c8102e" transform="translate(954.8,1794.5) rotate(-90)">Temperature</text>
<text x="0" y="0" font-size="24" text-anchor="middle" fill="#c8102e" transform="translate(984.5,1793.5) rotate(-90)">(°C)</text>
<text x="136.1" y="1843.7" font-size="25" text-anchor="start" fill="#111" >Aeolian flux in the Pacific Ocean</text>
<line x1="136.1" y1="1870.7" x2="165.5" y2="1870.7" stroke="#000" stroke-width="1.8" />
<text x="173.4" y="1875.8" font-size="25" text-anchor="start" fill="#111" >Site GPC3</text>
<line x1="334.5" y1="1870.7" x2="363.5" y2="1870.7" stroke="#3a64b4" stroke-width="1.8" />
<text x="369.6" y="1875.8" font-size="25" text-anchor="start" fill="#111" >Site 1208</text>
<line x1="508.1" y1="1870.6" x2="537" y2="1870.6" stroke="#7a4ab0" stroke-width="1.8" />
<text x="544.3" y="1875.8" font-size="25" text-anchor="start" fill="#111" >Site 883</text>
<defs><pattern id="dots" x="0" y="0" width="22" height="13" patternUnits="userSpaceOnUse"><rect x="2" y="2" width="2.8" height="2.8" fill="#9c4a22"/><rect x="9.5" y="5.5" width="2.8" height="2.8" fill="#9c4a22"/><rect x="15.5" y="9" width="2.8" height="2.8" fill="#9c4a22"/></pattern></defs>
<rect x="137" y="1892.5" width="28.5" height="15" fill="url(#dots)" stroke="#a0522d" stroke-width="2"/>
<text x="172.7" y="1907.2" font-size="25" text-anchor="start" fill="#111" >Mean grain size in the CLP</text>
<line x1="108" y1="1902.2" x2="116" y2="1902.2" stroke="#666" stroke-width="1.1" />
<line x1="108" y1="1908.8" x2="116" y2="1908.8" stroke="#666" stroke-width="1.1" />
<line x1="108" y1="1913.5" x2="116" y2="1913.5" stroke="#666" stroke-width="1.1" />
<line x1="108" y1="1917.1" x2="116" y2="1917.1" stroke="#666" stroke-width="1.1" />
<line x1="108" y1="1920.1" x2="116" y2="1920.1" stroke="#666" stroke-width="1.1" />
<line x1="108" y1="1922.6" x2="116" y2="1922.6" stroke="#666" stroke-width="1.1" />
<line x1="108" y1="1924.7" x2="116" y2="1924.7" stroke="#666" stroke-width="1.1" />
<line x1="108" y1="1926.7" x2="116" y2="1926.7" stroke="#666" stroke-width="1.1" />
<line x1="108" y1="1939.6" x2="116" y2="1939.6" stroke="#666" stroke-width="1.1" />
<line x1="108" y1="1946.2" x2="116" y2="1946.2" stroke="#666" stroke-width="1.1" />
<line x1="108" y1="1950.9" x2="116" y2="1950.9" stroke="#666" stroke-width="1.1" />
<line x1="108" y1="1954.6" x2="116" y2="1954.6" stroke="#666" stroke-width="1.1" />
<line x1="108" y1="1957.5" x2="116" y2="1957.5" stroke="#666" stroke-width="1.1" />
<line x1="108" y1="1960" x2="116" y2="1960" stroke="#666" stroke-width="1.1" />
<line x1="108" y1="1962.2" x2="116" y2="1962.2" stroke="#666" stroke-width="1.1" />
<line x1="108" y1="1964.1" x2="116" y2="1964.1" stroke="#666" stroke-width="1.1" />
<line x1="108" y1="1977.1" x2="116" y2="1977.1" stroke="#666" stroke-width="1.1" />
<line x1="108" y1="1983.7" x2="116" y2="1983.7" stroke="#666" stroke-width="1.1" />
<line x1="108" y1="1988.4" x2="116" y2="1988.4" stroke="#666" stroke-width="1.1" />
<line x1="108" y1="1992" x2="116" y2="1992" stroke="#666" stroke-width="1.1" />
<line x1="108" y1="1995" x2="116" y2="1995" stroke="#666" stroke-width="1.1" />
<line x1="108" y1="1997.5" x2="116" y2="1997.5" stroke="#666" stroke-width="1.1" />
<line x1="108" y1="1999.7" x2="116" y2="1999.7" stroke="#666" stroke-width="1.1" />
<line x1="108" y1="2001.6" x2="116" y2="2001.6" stroke="#666" stroke-width="1.1" />
<line x1="101.3" y1="1890.9" x2="116" y2="1890.9" stroke="#333" stroke-width="1.5" />
<line x1="101.3" y1="1928.4" x2="116" y2="1928.4" stroke="#333" stroke-width="1.5" />
<line x1="101.3" y1="1965.8" x2="116" y2="1965.8" stroke="#333" stroke-width="1.5" />
<line x1="101.3" y1="2003.3" x2="116" y2="2003.3" stroke="#333" stroke-width="1.5" />
<text x="80.6" y="1898.5" font-size="23" text-anchor="end" fill="#111" >1</text>
<text x="88.1" y="1938.1" font-size="23" text-anchor="end" fill="#111" >10</text>
<text x="88.1" y="1969" font-size="23" text-anchor="end" fill="#000">10</text><text x="89.5" y="1961.5" font-size="15" fill="#000">2</text>
<text x="88.1" y="2006.7" font-size="23" text-anchor="end" fill="#000">10</text><text x="89.5" y="1998.5" font-size="15" fill="#000">3</text>
<text x="0" y="0" font-size="25.2" text-anchor="middle" fill="#111" transform="translate(21.8,1936.5) rotate(-90)">Aeolian flux</text>
<text x="0" y="0" font-size="25.2" text-anchor="middle" fill="#111" transform="translate(52.2,1932.5) rotate(-90)">(g cm<tspan dy="-8" font-size="15">−2</tspan><tspan dy="8"> ka</tspan><tspan dy="-8" font-size="15">−1</tspan><tspan dy="8">)</tspan></text>
<rect x="603.9" y="1906.8" width="105.2" height="13.7" fill="url(#dots)" stroke="#a0522d" stroke-width="1.8"/>
<rect x="710" y="1920.5" width="73.5" height="11.9" fill="url(#dots)" stroke="#a0522d" stroke-width="1.8"/>
<rect x="783.5" y="1933.7" width="55.7" height="11.5" fill="url(#dots)" stroke="#a0522d" stroke-width="1.8"/>
<rect x="839.2" y="1939" width="13.6" height="12.4" fill="url(#dots)" stroke="#a0522d" stroke-width="1.8"/>
<rect x="853.7" y="1965.9" width="16.5" height="9.9" fill="url(#dots)" stroke="#a0522d" stroke-width="1.8"/>
<rect x="868.1" y="1977" width="12.4" height="12.4" fill="url(#dots)" stroke="#a0522d" stroke-width="1.8"/>
<rect x="875.5" y="1987.3" width="7.1" height="15.7" fill="url(#dots)" stroke="#a0522d" stroke-width="1.8"/>
<path d="M577,1927.5L580,1924L582.6,1922.9L585.2,1922L587.8,1918.7L590.9,1928.7L594,1931.9L596.6,1932.6L599.3,1934.5L601.9,1935L604.2,1938.4L606.5,1944.3L608.9,1941.6L611.2,1941.2L613.5,1940.1L615.9,1939.7L618.2,1941.3L620.6,1942.8L623.7,1939.5L626.8,1936.5L630,1941.2L632.3,1936.8L634.6,1936.5L637,1936.4L639.3,1941.2L642.5,1941.2L645.6,1942.8L648.7,1941.5L651.8,1938.1L654.1,1934.6L656.5,1928.7L658.1,1922.5L659.6,1981.8L661.2,1947.5L662.7,1966.2L664.3,1949L665.9,1972.4L667.4,1956.8L670.5,1980.2L672.1,1960L675.2,1964.6L679.9,1969.3L682.2,1967.6L684.6,1967.3L686.9,1968.3L689.3,1967.8L691.6,1963.4L694,1962.8L696.3,1961.6L698.6,1956.8L701.8,1949.1L704.9,1944.3L708,1944L711.1,1942.8L714.2,1947.8L717.4,1950.6L719.8,1962.7L722.1,1972.4L724.4,1965.7L726.7,1956.8L729.9,1968L733,1977.1L735.6,1979.6L738.2,1986.1L740.8,1988.1L743.1,1984.8L745.5,1974.9L747.9,1973.9L750.2,1966.2L753.3,1986.5L755.9,1981L758.5,1974L761.1,1970.9L763.4,1974.6L765.8,1984.1L768.1,1989.3L770.4,1994.3L773.5,1982.4L776.7,1974L779.3,1978.5L781.9,1984.1L784.5,1988.1L786.9,1985.1L789.2,1977.1L791.5,1984.9L793.9,1994.3L796.5,1998.8L799.1,1999.3L801.7,2003.7L804.8,1994.4L807.9,1988.1L811,1995.8L814.2,2006.8L817.3,1997L820.4,1988.1L823.5,1996.5L826.6,2003.7L829.8,1996.5L832.9,1991.2L836,1995.8L839.1,2003.7L842.2,1997.6L845.4,1994.3L848.5,2003.2L851.6,2016.2L854.8,2006.8L857.9,2000.5L861,1998L864.1,1997.4L867.2,2002.9L870.4,2008.3L872.7,2003.6L875,2002.1L878.1,2005.9L881.3,2009.9" fill="none" stroke="#3a64b4" stroke-width="1.2" stroke-linejoin="round"/>
<path d="M351.9,1925L362,1924.6L372,1925.4L380,1925.3L395,1926.2L410,1925.9L425,1926.6L437,1925.7L444,1928L450.5,1931.5L458,1929L466,1927.7L472,1929.5L479.5,1929.6L488,1926L496.5,1923.4L517.2,1922.1L540,1922.6L566.7,1923.8L575,1930L583.2,1936.6L590,1933L595.6,1932L606,1934L620.4,1936.2L628,1934L636.9,1932.8L655,1933.2L674.1,1932.8L690,1934L703,1935.7L712,1937L720,1938.7L730.3,1942.9L742.3,1943.8L752,1940L761.1,1937L771.4,1943.8L788.5,1945L805.6,1945.5L822.7,1946L834.7,1948.1L839.8,1954.9L845,1963.5L850.1,1970.3L857,1978.9L865.5,1983.2L870.7,1981.5L878.4,1979.7" fill="none" stroke="#000" stroke-width="2.1" stroke-linejoin="round"/>
<path d="M738.8,1949.4L743,1951L747.4,1953.2L751,1950L754.2,1946.4L758,1948L761.1,1946.4L766,1947.5L771.4,1946.4L775.6,1938.7L779.9,1944.6L782,1958L784.2,1966.9L788.5,1972.9L790,1962L791.9,1951.5L795.3,1937L797.9,1951.5L800.5,1954.1L803.9,1966.9L805.6,1949.8L809,1953.2L812.4,1942.9L815,1949.8L818.4,1936.1L821,1920.7L822.7,1918.1L824.4,1925L827,1920.7L830.4,1929.2L834.7,1936.1L838.1,1941.2L839.8,1960.1L841,1955L843.3,1961.8L846,1966L848.4,1970.3L851,1968L853.5,1972.9L857,1969L860.4,1970.3L863,1972L865.5,1970.3L868,1968.5L870.7,1970.3L874,1973L877.5,1974.6L881.8,1973.8" fill="none" stroke="#7a45b0" stroke-width="2.4" stroke-linejoin="round"/>
<line x1="884.2" y1="1905.9" x2="896.3" y2="1905.9" stroke="#9c4216" stroke-width="1.8" />
<text x="903.5" y="1918.3" font-size="25.5" text-anchor="start" fill="#9c4216" >7</text>
<line x1="884.2" y1="1934.2" x2="896.3" y2="1934.2" stroke="#9c4216" stroke-width="1.8" />
<text x="903.5" y="1942.5" font-size="25.5" text-anchor="start" fill="#9c4216" >12</text>
<line x1="884.2" y1="1963.2" x2="896.3" y2="1963.2" stroke="#9c4216" stroke-width="1.8" />
<text x="903.5" y="1970.3" font-size="25.5" text-anchor="start" fill="#9c4216" >17</text>
<line x1="884.2" y1="1993" x2="896.3" y2="1993" stroke="#9c4216" stroke-width="1.8" />
<text x="903.5" y="2001.3" font-size="25.5" text-anchor="start" fill="#9c4216" >22</text>
<text x="0" y="0" font-size="25.2" text-anchor="middle" fill="#9c4216" transform="translate(955.5,1947.1) rotate(-90)">Mean grain</text>
<text x="0" y="0" font-size="25.2" text-anchor="middle" fill="#9c4216" transform="translate(985.5,1948.3) rotate(-90)">size (μm)</text>
<line x1="101.7" y1="2044.2" x2="116" y2="2044.2" stroke="#333" stroke-width="1.5" />
<line x1="108.8" y1="2056.9" x2="116" y2="2056.9" stroke="#333" stroke-width="1.5" />
<line x1="101.7" y1="2069.3" x2="116" y2="2069.3" stroke="#333" stroke-width="1.5" />
<line x1="108.8" y1="2082" x2="116" y2="2082" stroke="#333" stroke-width="1.5" />
<line x1="101.7" y1="2094.5" x2="116" y2="2094.5" stroke="#333" stroke-width="1.5" />
<text x="97.7" y="2050.5" font-size="25.5" text-anchor="end" fill="#111" >−2</text>
<text x="97.7" y="2078.4" font-size="25.5" text-anchor="end" fill="#111" >0</text>
<text x="97.7" y="2101.6" font-size="25.5" text-anchor="end" fill="#111" >2</text>
<line x1="120" y1="2070" x2="882" y2="2070" stroke="#9a9a9a" stroke-width="2" stroke-dasharray="8,4.5"/>
<line x1="142" y1="2037" x2="142" y2="2104" stroke="#3f5566" stroke-width="2" />
<path d="M137.5,2041L142,2031.5L146.5,2041Z" fill="#3f5566"/><path d="M137.5,2100L142,2109.5L146.5,2100Z" fill="#3f5566"/>
<text x="0" y="0" font-size="25.2" fill="#111" transform="translate(152,2026) rotate(90)">Dry</text>
<text x="0" y="0" font-size="25.2" fill="#111" transform="translate(152,2078.4) rotate(90)">Wet</text>
<text x="0" y="0" font-size="25.2" text-anchor="middle" fill="#111" transform="translate(21.7,2083) rotate(-90)">Temperate</text>
<text x="0" y="0" font-size="25.2" text-anchor="middle" fill="#111" transform="translate(52.3,2078.8) rotate(-90)">lithology</text>
<path d="M248,2047L293,2058" fill="none" stroke="#111" stroke-width="1.4"/>
<path d="M305.6,2056L320,2046" fill="none" stroke="#111" stroke-width="1.4"/>
<path d="M330,2046L341,2057" fill="none" stroke="#111" stroke-width="1.4"/>
<path d="M353,2057L383,2057" fill="none" stroke="#111" stroke-width="1.4"/>
<path d="M531,2057L544,2057" fill="none" stroke="#111" stroke-width="1.4"/>
<path d="M555.9,2062L566.4,2070" fill="none" stroke="#111" stroke-width="1.4"/>
<path d="M566.4,2070L597.1,2070" fill="none" stroke="#111" stroke-width="1.4"/>
<path d="M632.5,2070L671.7,2070" fill="none" stroke="#111" stroke-width="1.4"/>
<path d="M734.5,2069.4L749.4,2069.4" fill="none" stroke="#111" stroke-width="1.4"/>
<path d="M762,2069.4L772.2,2069.4" fill="none" stroke="#111" stroke-width="1.4"/>
<path d="M784.8,2069.4L817.4,2069.4" fill="none" stroke="#111" stroke-width="1.4"/>
<path d="M830,2065L835,2050.5" fill="none" stroke="#111" stroke-width="1.4"/>
<path d="M843.7,2050.5L850.7,2070" fill="none" stroke="#111" stroke-width="1.4"/>
<path d="M850.7,2070L861,2049.7" fill="none" stroke="#111" stroke-width="1.4"/>
<path d="M671.7,2070L700,2070" fill="none" stroke="#111" stroke-width="1.4"/>
<path d="M597.1,2070C603,2080 604,2090 612.4,2094C620,2090 625,2076 632.5,2070" fill="none" stroke="#111" stroke-width="1.4"/>
<path d="M671.7,2070C677,2080 680,2092 686,2095.5C693,2092 700,2082 708.2,2069" fill="none" stroke="#111" stroke-width="1.4"/>
<rect x="235.3" y="2038.8" width="12.5" height="12.5" fill="#fff" stroke="#111" stroke-width="1.5"/>
<path d="M241.6,2040.5h4.5v4.5h-4.5z" fill="#111"/><path d="M237.5,2040.5h4v1.5h-4z" fill="#111"/>
<rect x="293.3" y="2051.3" width="12" height="12" fill="#f07c28" stroke="#111" stroke-width="1.5"/>
<rect x="340.9" y="2051.3" width="12" height="12" fill="#f07c28" stroke="#111" stroke-width="1.5"/>
<rect x="383" y="2051.3" width="12" height="12" fill="#f07c28" stroke="#111" stroke-width="1.5"/>
<rect x="519.5" y="2051.3" width="12" height="12" fill="#f07c28" stroke="#111" stroke-width="1.5"/>
<rect x="544" y="2051.3" width="12" height="12" fill="#f07c28" stroke="#111" stroke-width="1.5"/>
<path d="M319,2039.2L336,2045L319,2049.8Z" fill="#e6d820" stroke="#111" stroke-width="1.3"/>
<path d="M559.4,2070L564.4,2065.5L569.4,2065.5L573.4,2070L569.4,2074L564.4,2074Z" fill="#e52d2d"/>
<circle cx="564.9" cy="2071" r="1.3" fill="#fff"/><circle cx="568.9" cy="2068.5" r="1" fill="#fff"/>
<path d="M590.1,2070L595.1,2065.5L600.1,2065.5L604.1,2070L600.1,2074L595.1,2074Z" fill="#e52d2d"/>
<circle cx="595.6" cy="2071" r="1.3" fill="#fff"/><circle cx="599.6" cy="2068.5" r="1" fill="#fff"/>
<path d="M625.5,2070L630.5,2065.5L635.5,2065.5L639.5,2070L635.5,2074L630.5,2074Z" fill="#e52d2d"/>
<circle cx="631" cy="2071" r="1.3" fill="#fff"/><circle cx="635" cy="2068.5" r="1" fill="#fff"/>
<path d="M664.7,2070L669.7,2065.5L674.7,2065.5L678.7,2070L674.7,2074L669.7,2074Z" fill="#e52d2d"/>
<circle cx="670.2" cy="2071" r="1.3" fill="#fff"/><circle cx="674.2" cy="2068.5" r="1" fill="#fff"/>
<path d="M701.2,2070L706.2,2065.5L711.2,2065.5L715.2,2070L711.2,2074L706.2,2074Z" fill="#e52d2d"/>
<circle cx="706.7" cy="2071" r="1.3" fill="#fff"/><circle cx="710.7" cy="2068.5" r="1" fill="#fff"/>
<path d="M736.5,2070L741.5,2065.5L746.5,2065.5L750.5,2070L746.5,2074L741.5,2074Z" fill="#e52d2d"/>
<circle cx="742" cy="2071" r="1.3" fill="#fff"/><circle cx="746" cy="2068.5" r="1" fill="#fff"/>
<path d="M843.7,2070L848.7,2065.5L853.7,2065.5L857.7,2070L853.7,2074L848.7,2074Z" fill="#e52d2d"/>
<circle cx="849.2" cy="2071" r="1.3" fill="#fff"/><circle cx="853.2" cy="2068.5" r="1" fill="#fff"/>
<path d="M607.4,2088.5Q612.4,2092.5 617.4,2088.5L615.4,2094.5L617.4,2100.5Q612.4,2097.5 607.4,2100.5L609.4,2094.5Z" fill="#2e9e3e" stroke="#1a5a1a" stroke-width="0.6"/>
<path d="M681,2089.5Q686,2093.5 691,2089.5L689,2095.5L691,2101.5Q686,2098.5 681,2101.5L683,2095.5Z" fill="#2e9e3e" stroke="#1a5a1a" stroke-width="0.6"/>
<path d="M789.6,2063.5Q794.6,2067 799.6,2063.5L797.6,2069.4L799.6,2075.3Q794.6,2072 789.6,2075.3L791.6,2069.4Z" fill="#e8e8e8" stroke="#777" stroke-width="0.8"/>
<rect x="722" y="2063.2" width="12.5" height="12.5" fill="#8a8a8a" stroke="#111" stroke-width="1.5"/>
<rect x="749.5" y="2063.2" width="12.5" height="12.5" fill="#8a8a8a" stroke="#111" stroke-width="1.5"/>
<rect x="772.2" y="2063.2" width="12.5" height="12.5" fill="#c9a03a" stroke="#111" stroke-width="1.5"/>
<rect x="817.5" y="2063.2" width="12.5" height="12.5" fill="#c9a03a" stroke="#111" stroke-width="1.5"/>
<rect x="831" y="2038.8" width="12.5" height="12.5" fill="#fff" stroke="#111" stroke-width="1.5"/>
<rect x="860.5" y="2037.7" width="12.5" height="12.5" fill="#fff" stroke="#111" stroke-width="1.5"/>
<rect x="861" y="2040.2" width="11.4" height="3.2" fill="#f07c28"/>
<line x1="137" y1="2131.6" x2="166" y2="2131.6" stroke="#e0c020" stroke-width="2" />
<text x="174.2" y="2140.4" font-size="25" text-anchor="start" fill="#111" >Xerophytic plants</text>
<line x1="392.6" y1="2131.6" x2="421.9" y2="2131.6" stroke="#4cb04a" stroke-width="2" />
<text x="429" y="2140.4" font-size="25" text-anchor="start" fill="#111" >Moisture-loving plants</text>
<line x1="701.4" y1="2132.8" x2="728.5" y2="2132.8" stroke="#6a3fa0" stroke-width="2" />
<text x="735.7" y="2140.9" font-size="25" text-anchor="start" fill="#6a3fa0" >Salinity</text>
<line x1="101.5" y1="2148.1" x2="116" y2="2148.1" stroke="#333" stroke-width="1.5" />
<line x1="108.7" y1="2170.1" x2="116" y2="2170.1" stroke="#333" stroke-width="1.5" />
<line x1="108.7" y1="2214.3" x2="116" y2="2214.3" stroke="#333" stroke-width="1.5" />
<line x1="101.5" y1="2236.5" x2="116" y2="2236.5" stroke="#333" stroke-width="1.5" />
<text x="97.9" y="2155.3" font-size="25.5" text-anchor="end" fill="#111" >0</text>
<text x="97.9" y="2185.5" font-size="25.5" text-anchor="end" fill="#111" >10</text>
<text x="97.9" y="2221.5" font-size="25.5" text-anchor="end" fill="#111" >10</text>
<text x="97.9" y="2247" font-size="25.5" text-anchor="end" fill="#111" >0</text>
<text x="0" y="0" font-size="25.2" text-anchor="middle" fill="#111" transform="translate(21.6,2216.5) rotate(-90)">Plants</text>
<text x="0" y="0" font-size="25.2" text-anchor="middle" fill="#111" transform="translate(52.4,2216.9) rotate(-90)">contents (%)</text>
<path d="M367.5,2149.4L451.5,2149.4L451.5,2165L449,2162L447,2158L445,2163L442,2168L440,2160L437,2162L434,2158L431,2161L428,2155L425,2152L422,2151L419,2158L415,2154L412,2152L410,2150L404,2150L401,2151L398,2153L395,2155L392,2158L391,2172L389,2187L386,2193L382,2199L378,2196L374,2190L370,2188L367.5,2192Z" fill="#e0c21c"/>
<path d="M366,2236.2L367,2230L372,2228L375,2234L378,2228L385,2225L390,2220L393,2210L397,2200L400,2198L404,2195L406,2190L409,2200L411,2202L413,2218L420,2219L425,2218L428,2222L430,2228L432,2232L434,2212L437,2212L440,2218L443,2225L446,2205L449,2202L450.5,2236.2Z" fill="#5cb548"/>
<path d="M364.5,2192L365.1,2229.4L366.3,2196.8L367.5,2187.1L368.7,2207.7L369.9,2173.8L371.1,2214.9L372.4,2185.9L373.6,2198L374.8,2177.5L376,2207.7L377.2,2175L378.4,2218.5L379.6,2210.1L380.8,2229.4L381.7,2188.3L382.6,2224.6L383.8,2202.8L385,2207.7L386.3,2202.8L387.5,2208.9L388.7,2194.4L390.5,2171.4L391.7,2167.8L393.5,2170.2L395.9,2172L397.7,2164.8L398.9,2188.3L400.2,2167.8L401.4,2159.3L402.6,2155.1L403.8,2156.9L405,2155.7L406.2,2170.2L407.4,2176.3L409.2,2185.9L410.4,2196.8L411.6,2169L412.8,2167.8L414,2194.4L415.3,2184.7L417.1,2170.2L418.9,2169L420.7,2159.3L421.9,2154.5L423.7,2164.2L425.5,2156.9L427.3,2164.2L429.2,2159.3L431,2164.2L432.8,2192L434.6,2181.1L436.4,2170.2L438.2,2161.8L440,2156.9L441.8,2176.3L443.1,2185.9L444.9,2164.2L446.7,2166.6L448.5,2170.2L449.7,2190.8L450.9,2160.5L451.5,2173.8" fill="none" stroke="#6f3fb0" stroke-width="1.9" stroke-linejoin="round"/>
<line x1="883.8" y1="2149.1" x2="893.8" y2="2149.1" stroke="#50288c" stroke-width="1.8" />
<line x1="883.8" y1="2167" x2="891" y2="2167" stroke="#50288c" stroke-width="1.8" />
<line x1="883.8" y1="2184.9" x2="893.8" y2="2184.9" stroke="#50288c" stroke-width="1.8" />
<line x1="883.8" y1="2202.7" x2="891" y2="2202.7" stroke="#50288c" stroke-width="1.8" />
<line x1="883.8" y1="2219.3" x2="893.8" y2="2219.3" stroke="#50288c" stroke-width="1.8" />
<line x1="883.8" y1="2237.2" x2="891" y2="2237.2" stroke="#50288c" stroke-width="1.8" />
<text x="897.7" y="2157.8" font-size="25.5" text-anchor="start" fill="#6a3fa0" >0</text>
<text x="897.7" y="2196.7" font-size="25.5" text-anchor="start" fill="#6a3fa0" >8</text>
<text x="896.5" y="2227.6" font-size="25.5" text-anchor="start" fill="#6a3fa0" >16</text>
<text x="0" y="0" font-size="25.2" text-anchor="middle" fill="#6a3fa0" transform="translate(952,2181.3) rotate(-90)">Salinity</text>
<text x="0" y="0" font-size="25.2" text-anchor="middle" fill="#6a3fa0" transform="translate(985.5,2181.3) rotate(-90)">(mg kg<tspan dy="-8" font-size="15">−1</tspan><tspan dy="8">)</tspan></text>
<rect x="116" y="2237.2" width="82.1" height="33.8" fill="#c8c9ca" stroke="#111" stroke-width="1.8"/>
<text x="161.4" y="2265.6" font-size="25" text-anchor="middle" fill="#111" >Pale.</text>
<rect x="198.1" y="2237.2" width="270.5" height="33.8" fill="#fff" stroke="#111" stroke-width="1.8"/>
<text x="337" y="2265.6" font-size="25" text-anchor="middle" fill="#111" >Eocene</text>
<rect x="468.6" y="2237.2" width="133.5" height="33.8" fill="#c8c9ca" stroke="#111" stroke-width="1.8"/>
<text x="531.9" y="2265.6" font-size="25" text-anchor="middle" fill="#111" >Oli.</text>
<rect x="602.1" y="2237.2" width="218.9" height="33.8" fill="#fff" stroke="#111" stroke-width="1.8"/>
<text x="714" y="2265.6" font-size="25" text-anchor="middle" fill="#111" >Miocene</text>
<rect x="821" y="2237.2" width="31.6" height="33.8" fill="#c8c9ca" stroke="#111" stroke-width="1.8"/>
<text x="838.6" y="2265.6" font-size="25" text-anchor="middle" fill="#111" >P.</text>
<rect x="852.6" y="2237.2" width="31.2" height="33.8" fill="#fff" stroke="#111" stroke-width="1.8"/>
<text x="868.8" y="2265.6" font-size="25" text-anchor="middle" fill="#111" >Q.</text>
<line x1="149.3" y1="2271" x2="149.3" y2="2284.7" stroke="#000" stroke-width="1.8" />
<text x="149" y="2311.4" font-size="25.5" text-anchor="middle" fill="#111" >60</text>
<line x1="271.8" y1="2271" x2="271.8" y2="2284.7" stroke="#000" stroke-width="1.8" />
<text x="271.5" y="2311.4" font-size="25.5" text-anchor="middle" fill="#111" >50</text>
<line x1="394.2" y1="2271" x2="394.2" y2="2284.7" stroke="#000" stroke-width="1.8" />
<text x="393.9" y="2311.4" font-size="25.5" text-anchor="middle" fill="#111" >40</text>
<line x1="516.7" y1="2271" x2="516.7" y2="2284.7" stroke="#000" stroke-width="1.8" />
<text x="516.4" y="2311.4" font-size="25.5" text-anchor="middle" fill="#111" >30</text>
<line x1="639.2" y1="2271" x2="639.2" y2="2284.7" stroke="#000" stroke-width="1.8" />
<text x="638.9" y="2311.4" font-size="25.5" text-anchor="middle" fill="#111" >20</text>
<line x1="761.7" y1="2271" x2="761.7" y2="2284.7" stroke="#000" stroke-width="1.8" />
<text x="761.4" y="2311.4" font-size="25.5" text-anchor="middle" fill="#111" >10</text>
<line x1="884.2" y1="2271" x2="884.2" y2="2284.7" stroke="#000" stroke-width="1.8" />
<text x="881.8" y="2311.4" font-size="25.5" text-anchor="middle" fill="#111" >0</text>
<text x="518.2" y="2342.9" font-size="25" text-anchor="middle" fill="#111" >Time before present (Ma)</text>
<line x1="116" y1="39.8" x2="116" y2="2271.6" stroke="#000" stroke-width="1.9" />
<line x1="883.8" y1="39.8" x2="883.8" y2="2271.6" stroke="#000" stroke-width="1.9" />
<line x1="115" y1="39.8" x2="884.8" y2="39.8" stroke="#000" stroke-width="1.9" />
<line x1="118" y1="355.2" x2="883.8" y2="355.2" stroke="#000" stroke-width="1.9" />
</svg>
</body></html>
